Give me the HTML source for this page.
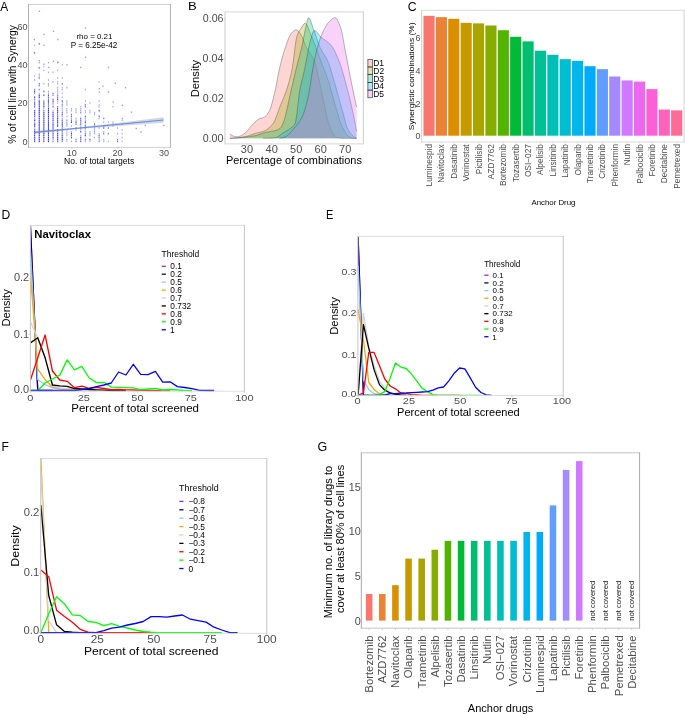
<!DOCTYPE html>
<html><head><meta charset="utf-8"><style>
html,body{margin:0;padding:0;background:#fff;width:685px;height:715px;overflow:hidden}
svg{display:block;filter:blur(0.3px);font-family:'Liberation Sans',sans-serif}
</style></head><body>
<svg width="685" height="715" viewBox="0 0 685 715" style="font-family:'Liberation Sans',sans-serif"><rect width="685" height="715" fill="#fff"/><text transform="translate(0.20 10.80) scale(1.000 1)" font-size="11.88" fill="#000">A</text><g fill="#2b2bf2"><rect x="34.1" y="140.6" width="1.1" height="1.6" opacity="0.93"/><rect x="34.1" y="138.7" width="1.1" height="1.6" opacity="0.89"/><rect x="34.1" y="136.8" width="1.1" height="1.6" opacity="0.89"/><rect x="34.1" y="134.8" width="1.1" height="1.6" opacity="0.93"/><rect x="34.1" y="132.9" width="1.1" height="1.6" opacity="0.80"/><rect x="34.1" y="131.0" width="1.1" height="1.6" opacity="0.89"/><rect x="34.1" y="129.1" width="1.1" height="1.6" opacity="0.80"/><rect x="34.1" y="127.2" width="1.1" height="1.6" opacity="0.42"/><rect x="34.1" y="125.2" width="1.1" height="1.6" opacity="0.98"/><rect x="34.1" y="123.3" width="1.1" height="1.6" opacity="0.98"/><rect x="34.1" y="121.4" width="1.1" height="1.6" opacity="0.42"/><rect x="34.1" y="119.5" width="1.1" height="1.6" opacity="1.00"/><rect x="34.1" y="117.6" width="1.1" height="1.6" opacity="0.42"/><rect x="34.1" y="115.6" width="1.1" height="1.6" opacity="0.80"/><rect x="34.1" y="113.7" width="1.1" height="1.6" opacity="0.89"/><rect x="34.1" y="111.8" width="1.1" height="1.6" opacity="0.96"/><rect x="34.1" y="109.9" width="1.1" height="1.6" opacity="0.89"/><rect x="34.1" y="106.0" width="1.1" height="1.6" opacity="0.80"/><rect x="34.1" y="104.1" width="1.1" height="1.6" opacity="0.80"/><rect x="34.1" y="102.2" width="1.1" height="1.6" opacity="0.89"/><rect x="34.1" y="100.3" width="1.1" height="1.6" opacity="0.42"/><rect x="34.1" y="98.4" width="1.1" height="1.6" opacity="0.66"/><rect x="34.1" y="96.4" width="1.1" height="1.6" opacity="0.89"/><rect x="34.1" y="92.6" width="1.1" height="1.6" opacity="0.66"/><rect x="34.1" y="90.7" width="1.1" height="1.6" opacity="0.89"/><rect x="34.1" y="88.8" width="1.1" height="1.6" opacity="0.66"/><rect x="34.1" y="79.2" width="1.1" height="1.6" opacity="0.42"/><rect x="34.1" y="75.3" width="1.1" height="1.6" opacity="0.42"/><rect x="34.1" y="52.3" width="1.1" height="1.6" opacity="0.42"/><rect x="34.1" y="44.6" width="1.1" height="1.6" opacity="0.42"/><rect x="38.7" y="140.6" width="1.1" height="1.6" opacity="0.99"/><rect x="38.7" y="138.7" width="1.1" height="1.6" opacity="1.00"/><rect x="38.7" y="136.8" width="1.1" height="1.6" opacity="0.93"/><rect x="38.7" y="134.8" width="1.1" height="1.6" opacity="0.98"/><rect x="38.7" y="132.9" width="1.1" height="1.6" opacity="1.00"/><rect x="38.7" y="131.0" width="1.1" height="1.6" opacity="0.89"/><rect x="38.7" y="129.1" width="1.1" height="1.6" opacity="1.00"/><rect x="38.7" y="127.2" width="1.1" height="1.6" opacity="1.00"/><rect x="38.7" y="125.2" width="1.1" height="1.6" opacity="0.99"/><rect x="38.7" y="123.3" width="1.1" height="1.6" opacity="1.00"/><rect x="38.7" y="121.4" width="1.1" height="1.6" opacity="0.99"/><rect x="38.7" y="119.5" width="1.1" height="1.6" opacity="0.89"/><rect x="38.7" y="117.6" width="1.1" height="1.6" opacity="1.00"/><rect x="38.7" y="115.6" width="1.1" height="1.6" opacity="0.99"/><rect x="38.7" y="113.7" width="1.1" height="1.6" opacity="0.93"/><rect x="38.7" y="111.8" width="1.1" height="1.6" opacity="1.00"/><rect x="38.7" y="109.9" width="1.1" height="1.6" opacity="1.00"/><rect x="38.7" y="108.0" width="1.1" height="1.6" opacity="1.00"/><rect x="38.7" y="106.0" width="1.1" height="1.6" opacity="0.96"/><rect x="38.7" y="104.1" width="1.1" height="1.6" opacity="0.93"/><rect x="38.7" y="102.2" width="1.1" height="1.6" opacity="0.99"/><rect x="38.7" y="100.3" width="1.1" height="1.6" opacity="0.98"/><rect x="38.7" y="98.4" width="1.1" height="1.6" opacity="0.42"/><rect x="38.7" y="96.4" width="1.1" height="1.6" opacity="0.98"/><rect x="38.7" y="94.5" width="1.1" height="1.6" opacity="0.96"/><rect x="38.7" y="92.6" width="1.1" height="1.6" opacity="0.42"/><rect x="38.7" y="88.8" width="1.1" height="1.6" opacity="0.66"/><rect x="38.7" y="84.9" width="1.1" height="1.6" opacity="0.66"/><rect x="38.7" y="83.0" width="1.1" height="1.6" opacity="0.66"/><rect x="38.7" y="77.2" width="1.1" height="1.6" opacity="0.66"/><rect x="38.7" y="75.3" width="1.1" height="1.6" opacity="0.42"/><rect x="38.7" y="73.4" width="1.1" height="1.6" opacity="0.42"/><rect x="38.7" y="67.6" width="1.1" height="1.6" opacity="0.42"/><rect x="38.7" y="61.9" width="1.1" height="1.6" opacity="0.42"/><rect x="38.7" y="42.7" width="1.1" height="1.6" opacity="0.42"/><rect x="43.3" y="140.6" width="1.1" height="1.6" opacity="0.96"/><rect x="43.3" y="138.7" width="1.1" height="1.6" opacity="0.66"/><rect x="43.3" y="136.8" width="1.1" height="1.6" opacity="0.99"/><rect x="43.3" y="134.8" width="1.1" height="1.6" opacity="1.00"/><rect x="43.3" y="132.9" width="1.1" height="1.6" opacity="0.99"/><rect x="43.3" y="131.0" width="1.1" height="1.6" opacity="0.89"/><rect x="43.3" y="129.1" width="1.1" height="1.6" opacity="1.00"/><rect x="43.3" y="127.2" width="1.1" height="1.6" opacity="0.96"/><rect x="43.3" y="125.2" width="1.1" height="1.6" opacity="0.98"/><rect x="43.3" y="123.3" width="1.1" height="1.6" opacity="0.96"/><rect x="43.3" y="121.4" width="1.1" height="1.6" opacity="0.99"/><rect x="43.3" y="119.5" width="1.1" height="1.6" opacity="0.89"/><rect x="43.3" y="117.6" width="1.1" height="1.6" opacity="0.96"/><rect x="43.3" y="115.6" width="1.1" height="1.6" opacity="0.99"/><rect x="43.3" y="113.7" width="1.1" height="1.6" opacity="0.99"/><rect x="43.3" y="111.8" width="1.1" height="1.6" opacity="0.96"/><rect x="43.3" y="109.9" width="1.1" height="1.6" opacity="0.66"/><rect x="43.3" y="108.0" width="1.1" height="1.6" opacity="0.42"/><rect x="43.3" y="106.0" width="1.1" height="1.6" opacity="0.93"/><rect x="43.3" y="104.1" width="1.1" height="1.6" opacity="0.80"/><rect x="43.3" y="102.2" width="1.1" height="1.6" opacity="0.93"/><rect x="43.3" y="100.3" width="1.1" height="1.6" opacity="0.66"/><rect x="43.3" y="94.5" width="1.1" height="1.6" opacity="0.89"/><rect x="43.3" y="90.7" width="1.1" height="1.6" opacity="0.80"/><rect x="43.3" y="83.0" width="1.1" height="1.6" opacity="0.42"/><rect x="43.3" y="69.6" width="1.1" height="1.6" opacity="0.42"/><rect x="43.3" y="65.7" width="1.1" height="1.6" opacity="0.42"/><rect x="47.9" y="140.6" width="1.1" height="1.6" opacity="0.99"/><rect x="47.9" y="138.7" width="1.1" height="1.6" opacity="0.98"/><rect x="47.9" y="136.8" width="1.1" height="1.6" opacity="0.99"/><rect x="47.9" y="134.8" width="1.1" height="1.6" opacity="0.89"/><rect x="47.9" y="132.9" width="1.1" height="1.6" opacity="0.93"/><rect x="47.9" y="131.0" width="1.1" height="1.6" opacity="0.96"/><rect x="47.9" y="129.1" width="1.1" height="1.6" opacity="0.99"/><rect x="47.9" y="127.2" width="1.1" height="1.6" opacity="1.00"/><rect x="47.9" y="125.2" width="1.1" height="1.6" opacity="0.99"/><rect x="47.9" y="123.3" width="1.1" height="1.6" opacity="0.96"/><rect x="47.9" y="121.4" width="1.1" height="1.6" opacity="0.93"/><rect x="47.9" y="119.5" width="1.1" height="1.6" opacity="0.80"/><rect x="47.9" y="117.6" width="1.1" height="1.6" opacity="0.93"/><rect x="47.9" y="115.6" width="1.1" height="1.6" opacity="1.00"/><rect x="47.9" y="113.7" width="1.1" height="1.6" opacity="0.80"/><rect x="47.9" y="111.8" width="1.1" height="1.6" opacity="0.99"/><rect x="47.9" y="109.9" width="1.1" height="1.6" opacity="1.00"/><rect x="47.9" y="108.0" width="1.1" height="1.6" opacity="0.93"/><rect x="47.9" y="106.0" width="1.1" height="1.6" opacity="0.66"/><rect x="47.9" y="104.1" width="1.1" height="1.6" opacity="0.66"/><rect x="47.9" y="102.2" width="1.1" height="1.6" opacity="0.80"/><rect x="47.9" y="100.3" width="1.1" height="1.6" opacity="0.93"/><rect x="47.9" y="98.4" width="1.1" height="1.6" opacity="0.66"/><rect x="47.9" y="96.4" width="1.1" height="1.6" opacity="0.66"/><rect x="47.9" y="94.5" width="1.1" height="1.6" opacity="0.80"/><rect x="47.9" y="92.6" width="1.1" height="1.6" opacity="0.42"/><rect x="47.9" y="90.7" width="1.1" height="1.6" opacity="0.42"/><rect x="47.9" y="84.9" width="1.1" height="1.6" opacity="0.42"/><rect x="47.9" y="83.0" width="1.1" height="1.6" opacity="0.42"/><rect x="47.9" y="79.2" width="1.1" height="1.6" opacity="0.42"/><rect x="47.9" y="71.5" width="1.1" height="1.6" opacity="0.42"/><rect x="47.9" y="61.9" width="1.1" height="1.6" opacity="0.42"/><rect x="52.5" y="140.6" width="1.1" height="1.6" opacity="0.66"/><rect x="52.5" y="138.7" width="1.1" height="1.6" opacity="0.42"/><rect x="52.5" y="136.8" width="1.1" height="1.6" opacity="1.00"/><rect x="52.5" y="134.8" width="1.1" height="1.6" opacity="0.66"/><rect x="52.5" y="132.9" width="1.1" height="1.6" opacity="0.89"/><rect x="52.5" y="131.0" width="1.1" height="1.6" opacity="0.66"/><rect x="52.5" y="129.1" width="1.1" height="1.6" opacity="0.66"/><rect x="52.5" y="127.2" width="1.1" height="1.6" opacity="0.93"/><rect x="52.5" y="125.2" width="1.1" height="1.6" opacity="0.89"/><rect x="52.5" y="123.3" width="1.1" height="1.6" opacity="0.98"/><rect x="52.5" y="121.4" width="1.1" height="1.6" opacity="0.66"/><rect x="52.5" y="119.5" width="1.1" height="1.6" opacity="0.89"/><rect x="52.5" y="117.6" width="1.1" height="1.6" opacity="0.80"/><rect x="52.5" y="115.6" width="1.1" height="1.6" opacity="0.93"/><rect x="52.5" y="113.7" width="1.1" height="1.6" opacity="0.93"/><rect x="52.5" y="111.8" width="1.1" height="1.6" opacity="0.89"/><rect x="52.5" y="109.9" width="1.1" height="1.6" opacity="0.42"/><rect x="52.5" y="106.0" width="1.1" height="1.6" opacity="0.66"/><rect x="52.5" y="104.1" width="1.1" height="1.6" opacity="0.42"/><rect x="52.5" y="102.2" width="1.1" height="1.6" opacity="0.66"/><rect x="52.5" y="100.3" width="1.1" height="1.6" opacity="0.89"/><rect x="52.5" y="98.4" width="1.1" height="1.6" opacity="0.66"/><rect x="52.5" y="94.5" width="1.1" height="1.6" opacity="0.66"/><rect x="52.5" y="92.6" width="1.1" height="1.6" opacity="0.66"/><rect x="52.5" y="81.1" width="1.1" height="1.6" opacity="0.42"/><rect x="52.5" y="71.5" width="1.1" height="1.6" opacity="0.42"/><rect x="57.1" y="140.6" width="1.1" height="1.6" opacity="0.80"/><rect x="57.1" y="138.7" width="1.1" height="1.6" opacity="0.96"/><rect x="57.1" y="136.8" width="1.1" height="1.6" opacity="0.96"/><rect x="57.1" y="134.8" width="1.1" height="1.6" opacity="0.93"/><rect x="57.1" y="132.9" width="1.1" height="1.6" opacity="0.93"/><rect x="57.1" y="131.0" width="1.1" height="1.6" opacity="0.66"/><rect x="57.1" y="129.1" width="1.1" height="1.6" opacity="0.89"/><rect x="57.1" y="125.2" width="1.1" height="1.6" opacity="0.99"/><rect x="57.1" y="123.3" width="1.1" height="1.6" opacity="0.80"/><rect x="57.1" y="121.4" width="1.1" height="1.6" opacity="0.98"/><rect x="57.1" y="119.5" width="1.1" height="1.6" opacity="0.93"/><rect x="57.1" y="117.6" width="1.1" height="1.6" opacity="0.96"/><rect x="57.1" y="115.6" width="1.1" height="1.6" opacity="0.80"/><rect x="57.1" y="113.7" width="1.1" height="1.6" opacity="0.66"/><rect x="57.1" y="111.8" width="1.1" height="1.6" opacity="0.93"/><rect x="57.1" y="109.9" width="1.1" height="1.6" opacity="0.99"/><rect x="57.1" y="108.0" width="1.1" height="1.6" opacity="0.89"/><rect x="57.1" y="106.0" width="1.1" height="1.6" opacity="0.66"/><rect x="57.1" y="102.2" width="1.1" height="1.6" opacity="0.42"/><rect x="57.1" y="100.3" width="1.1" height="1.6" opacity="0.42"/><rect x="57.1" y="98.4" width="1.1" height="1.6" opacity="0.89"/><rect x="57.1" y="96.4" width="1.1" height="1.6" opacity="0.66"/><rect x="57.1" y="94.5" width="1.1" height="1.6" opacity="0.66"/><rect x="57.1" y="92.6" width="1.1" height="1.6" opacity="0.42"/><rect x="57.1" y="90.7" width="1.1" height="1.6" opacity="0.42"/><rect x="57.1" y="88.8" width="1.1" height="1.6" opacity="0.42"/><rect x="57.1" y="86.8" width="1.1" height="1.6" opacity="0.42"/><rect x="57.1" y="83.0" width="1.1" height="1.6" opacity="0.42"/><rect x="57.1" y="81.1" width="1.1" height="1.6" opacity="0.42"/><rect x="57.1" y="77.2" width="1.1" height="1.6" opacity="0.42"/><rect x="57.1" y="69.6" width="1.1" height="1.6" opacity="0.42"/><rect x="57.1" y="61.9" width="1.1" height="1.6" opacity="0.42"/><rect x="61.7" y="140.6" width="1.1" height="1.6" opacity="0.66"/><rect x="61.7" y="138.7" width="1.1" height="1.6" opacity="1.00"/><rect x="61.7" y="136.8" width="1.1" height="1.6" opacity="0.89"/><rect x="61.7" y="134.8" width="1.1" height="1.6" opacity="0.89"/><rect x="61.7" y="132.9" width="1.1" height="1.6" opacity="0.66"/><rect x="61.7" y="131.0" width="1.1" height="1.6" opacity="0.66"/><rect x="61.7" y="129.1" width="1.1" height="1.6" opacity="0.89"/><rect x="61.7" y="127.2" width="1.1" height="1.6" opacity="0.66"/><rect x="61.7" y="125.2" width="1.1" height="1.6" opacity="0.89"/><rect x="61.7" y="123.3" width="1.1" height="1.6" opacity="0.96"/><rect x="61.7" y="121.4" width="1.1" height="1.6" opacity="0.80"/><rect x="61.7" y="119.5" width="1.1" height="1.6" opacity="0.80"/><rect x="61.7" y="117.6" width="1.1" height="1.6" opacity="0.42"/><rect x="61.7" y="115.6" width="1.1" height="1.6" opacity="0.42"/><rect x="61.7" y="113.7" width="1.1" height="1.6" opacity="0.80"/><rect x="61.7" y="111.8" width="1.1" height="1.6" opacity="0.66"/><rect x="61.7" y="109.9" width="1.1" height="1.6" opacity="0.42"/><rect x="61.7" y="108.0" width="1.1" height="1.6" opacity="0.42"/><rect x="61.7" y="106.0" width="1.1" height="1.6" opacity="0.42"/><rect x="61.7" y="104.1" width="1.1" height="1.6" opacity="0.66"/><rect x="61.7" y="102.2" width="1.1" height="1.6" opacity="0.42"/><rect x="61.7" y="100.3" width="1.1" height="1.6" opacity="0.80"/><rect x="61.7" y="96.4" width="1.1" height="1.6" opacity="0.42"/><rect x="61.7" y="92.6" width="1.1" height="1.6" opacity="0.42"/><rect x="61.7" y="88.8" width="1.1" height="1.6" opacity="0.42"/><rect x="61.7" y="86.8" width="1.1" height="1.6" opacity="0.42"/><rect x="61.7" y="83.0" width="1.1" height="1.6" opacity="0.66"/><rect x="61.7" y="77.2" width="1.1" height="1.6" opacity="0.42"/><rect x="61.7" y="63.8" width="1.1" height="1.6" opacity="0.42"/><rect x="66.3" y="140.6" width="1.1" height="1.6" opacity="0.42"/><rect x="66.3" y="138.7" width="1.1" height="1.6" opacity="0.42"/><rect x="66.3" y="134.8" width="1.1" height="1.6" opacity="0.42"/><rect x="66.3" y="132.9" width="1.1" height="1.6" opacity="0.42"/><rect x="66.3" y="131.0" width="1.1" height="1.6" opacity="0.42"/><rect x="66.3" y="129.1" width="1.1" height="1.6" opacity="0.42"/><rect x="66.3" y="125.2" width="1.1" height="1.6" opacity="0.42"/><rect x="66.3" y="123.3" width="1.1" height="1.6" opacity="0.66"/><rect x="66.3" y="121.4" width="1.1" height="1.6" opacity="0.42"/><rect x="66.3" y="119.5" width="1.1" height="1.6" opacity="0.66"/><rect x="66.3" y="115.6" width="1.1" height="1.6" opacity="0.42"/><rect x="66.3" y="111.8" width="1.1" height="1.6" opacity="0.42"/><rect x="66.3" y="109.9" width="1.1" height="1.6" opacity="0.42"/><rect x="66.3" y="108.0" width="1.1" height="1.6" opacity="0.42"/><rect x="66.3" y="104.1" width="1.1" height="1.6" opacity="0.42"/><rect x="66.3" y="102.2" width="1.1" height="1.6" opacity="0.42"/><rect x="66.3" y="100.3" width="1.1" height="1.6" opacity="0.42"/><rect x="66.3" y="86.8" width="1.1" height="1.6" opacity="0.42"/><rect x="70.9" y="140.6" width="1.1" height="1.6" opacity="0.42"/><rect x="70.9" y="136.8" width="1.1" height="1.6" opacity="0.80"/><rect x="70.9" y="134.8" width="1.1" height="1.6" opacity="0.66"/><rect x="70.9" y="132.9" width="1.1" height="1.6" opacity="0.89"/><rect x="70.9" y="131.0" width="1.1" height="1.6" opacity="0.42"/><rect x="70.9" y="125.2" width="1.1" height="1.6" opacity="0.42"/><rect x="70.9" y="121.4" width="1.1" height="1.6" opacity="0.93"/><rect x="70.9" y="119.5" width="1.1" height="1.6" opacity="0.66"/><rect x="70.9" y="117.6" width="1.1" height="1.6" opacity="0.42"/><rect x="70.9" y="115.6" width="1.1" height="1.6" opacity="0.66"/><rect x="70.9" y="113.7" width="1.1" height="1.6" opacity="0.66"/><rect x="70.9" y="109.9" width="1.1" height="1.6" opacity="0.42"/><rect x="70.9" y="108.0" width="1.1" height="1.6" opacity="0.42"/><rect x="75.5" y="140.6" width="1.1" height="1.6" opacity="0.66"/><rect x="75.5" y="138.7" width="1.1" height="1.6" opacity="0.66"/><rect x="75.5" y="129.1" width="1.1" height="1.6" opacity="0.42"/><rect x="75.5" y="127.2" width="1.1" height="1.6" opacity="0.66"/><rect x="75.5" y="123.3" width="1.1" height="1.6" opacity="0.66"/><rect x="75.5" y="121.4" width="1.1" height="1.6" opacity="0.89"/><rect x="75.5" y="119.5" width="1.1" height="1.6" opacity="0.42"/><rect x="75.5" y="117.6" width="1.1" height="1.6" opacity="0.42"/><rect x="75.5" y="111.8" width="1.1" height="1.6" opacity="0.42"/><rect x="75.5" y="109.9" width="1.1" height="1.6" opacity="0.42"/><rect x="75.5" y="108.0" width="1.1" height="1.6" opacity="0.42"/><rect x="80.2" y="140.6" width="1.1" height="1.6" opacity="0.80"/><rect x="80.2" y="138.7" width="1.1" height="1.6" opacity="0.66"/><rect x="80.2" y="136.8" width="1.1" height="1.6" opacity="0.89"/><rect x="80.2" y="134.8" width="1.1" height="1.6" opacity="0.42"/><rect x="80.2" y="131.0" width="1.1" height="1.6" opacity="0.80"/><rect x="80.2" y="129.1" width="1.1" height="1.6" opacity="0.42"/><rect x="80.2" y="127.2" width="1.1" height="1.6" opacity="0.66"/><rect x="80.2" y="125.2" width="1.1" height="1.6" opacity="0.42"/><rect x="80.2" y="123.3" width="1.1" height="1.6" opacity="0.80"/><rect x="80.2" y="121.4" width="1.1" height="1.6" opacity="0.66"/><rect x="80.2" y="119.5" width="1.1" height="1.6" opacity="0.80"/><rect x="80.2" y="117.6" width="1.1" height="1.6" opacity="0.80"/><rect x="80.2" y="111.8" width="1.1" height="1.6" opacity="0.66"/><rect x="80.2" y="109.9" width="1.1" height="1.6" opacity="0.42"/><rect x="80.2" y="108.0" width="1.1" height="1.6" opacity="0.42"/><rect x="80.2" y="106.0" width="1.1" height="1.6" opacity="0.42"/><rect x="84.8" y="140.6" width="1.1" height="1.6" opacity="0.42"/><rect x="84.8" y="138.7" width="1.1" height="1.6" opacity="0.66"/><rect x="84.8" y="134.8" width="1.1" height="1.6" opacity="0.89"/><rect x="84.8" y="132.9" width="1.1" height="1.6" opacity="0.66"/><rect x="84.8" y="131.0" width="1.1" height="1.6" opacity="0.42"/><rect x="84.8" y="129.1" width="1.1" height="1.6" opacity="0.42"/><rect x="84.8" y="127.2" width="1.1" height="1.6" opacity="0.66"/><rect x="84.8" y="125.2" width="1.1" height="1.6" opacity="0.80"/><rect x="84.8" y="123.3" width="1.1" height="1.6" opacity="0.42"/><rect x="84.8" y="121.4" width="1.1" height="1.6" opacity="0.93"/><rect x="84.8" y="119.5" width="1.1" height="1.6" opacity="0.42"/><rect x="84.8" y="117.6" width="1.1" height="1.6" opacity="0.42"/><rect x="84.8" y="115.6" width="1.1" height="1.6" opacity="0.80"/><rect x="84.8" y="111.8" width="1.1" height="1.6" opacity="0.42"/><rect x="84.8" y="109.9" width="1.1" height="1.6" opacity="0.42"/><rect x="84.8" y="106.0" width="1.1" height="1.6" opacity="0.66"/><rect x="84.8" y="104.1" width="1.1" height="1.6" opacity="0.66"/><rect x="84.8" y="100.3" width="1.1" height="1.6" opacity="0.42"/><rect x="84.8" y="88.8" width="1.1" height="1.6" opacity="0.42"/><rect x="89.4" y="140.6" width="1.1" height="1.6" opacity="0.42"/><rect x="89.4" y="138.7" width="1.1" height="1.6" opacity="0.80"/><rect x="89.4" y="134.8" width="1.1" height="1.6" opacity="0.42"/><rect x="89.4" y="132.9" width="1.1" height="1.6" opacity="0.42"/><rect x="89.4" y="131.0" width="1.1" height="1.6" opacity="0.42"/><rect x="89.4" y="111.8" width="1.1" height="1.6" opacity="0.42"/><rect x="89.4" y="109.9" width="1.1" height="1.6" opacity="0.42"/><rect x="89.4" y="102.2" width="1.1" height="1.6" opacity="0.42"/><rect x="94.0" y="136.8" width="1.1" height="1.6" opacity="0.42"/><rect x="94.0" y="132.9" width="1.1" height="1.6" opacity="0.42"/><rect x="94.0" y="131.0" width="1.1" height="1.6" opacity="0.42"/><rect x="94.0" y="129.1" width="1.1" height="1.6" opacity="0.42"/><rect x="94.0" y="127.2" width="1.1" height="1.6" opacity="0.42"/><rect x="94.0" y="125.2" width="1.1" height="1.6" opacity="0.42"/><rect x="94.0" y="123.3" width="1.1" height="1.6" opacity="0.66"/><rect x="94.0" y="113.7" width="1.1" height="1.6" opacity="0.42"/><rect x="94.0" y="111.8" width="1.1" height="1.6" opacity="0.42"/><rect x="98.6" y="140.6" width="1.1" height="1.6" opacity="0.66"/><rect x="98.6" y="138.7" width="1.1" height="1.6" opacity="0.42"/><rect x="98.6" y="136.8" width="1.1" height="1.6" opacity="0.66"/><rect x="98.6" y="134.8" width="1.1" height="1.6" opacity="0.80"/><rect x="98.6" y="132.9" width="1.1" height="1.6" opacity="0.42"/><rect x="98.6" y="127.2" width="1.1" height="1.6" opacity="0.42"/><rect x="98.6" y="117.6" width="1.1" height="1.6" opacity="0.42"/><rect x="98.6" y="115.6" width="1.1" height="1.6" opacity="0.80"/><rect x="98.6" y="109.9" width="1.1" height="1.6" opacity="0.89"/><rect x="98.6" y="106.0" width="1.1" height="1.6" opacity="0.42"/><rect x="98.6" y="104.1" width="1.1" height="1.6" opacity="0.42"/><rect x="98.6" y="100.3" width="1.1" height="1.6" opacity="0.42"/><rect x="98.6" y="81.1" width="1.1" height="1.6" opacity="0.42"/><rect x="103.2" y="140.6" width="1.1" height="1.6" opacity="0.42"/><rect x="103.2" y="138.7" width="1.1" height="1.6" opacity="0.42"/><rect x="103.2" y="132.9" width="1.1" height="1.6" opacity="0.66"/><rect x="103.2" y="131.0" width="1.1" height="1.6" opacity="0.42"/><rect x="103.2" y="127.2" width="1.1" height="1.6" opacity="0.80"/><rect x="103.2" y="125.2" width="1.1" height="1.6" opacity="0.42"/><rect x="103.2" y="121.4" width="1.1" height="1.6" opacity="0.42"/><rect x="103.2" y="117.6" width="1.1" height="1.6" opacity="0.66"/><rect x="107.8" y="140.6" width="1.1" height="1.6" opacity="0.42"/><rect x="107.8" y="132.9" width="1.1" height="1.6" opacity="0.66"/><rect x="107.8" y="127.2" width="1.1" height="1.6" opacity="0.66"/><rect x="107.8" y="121.4" width="1.1" height="1.6" opacity="0.42"/><rect x="112.4" y="125.2" width="1.1" height="1.6" opacity="0.42"/><rect x="112.4" y="123.3" width="1.1" height="1.6" opacity="0.42"/><rect x="112.4" y="121.4" width="1.1" height="1.6" opacity="0.42"/><rect x="112.4" y="106.0" width="1.1" height="1.6" opacity="0.42"/><rect x="117.0" y="140.6" width="1.1" height="1.6" opacity="0.66"/><rect x="117.0" y="138.7" width="1.1" height="1.6" opacity="0.66"/><rect x="117.0" y="132.9" width="1.1" height="1.6" opacity="0.42"/><rect x="117.0" y="127.2" width="1.1" height="1.6" opacity="0.42"/><rect x="121.6" y="140.6" width="1.1" height="1.6" opacity="0.42"/><rect x="121.6" y="136.8" width="1.1" height="1.6" opacity="0.42"/><rect x="121.6" y="132.9" width="1.1" height="1.6" opacity="0.42"/><rect x="121.6" y="129.1" width="1.1" height="1.6" opacity="0.42"/><rect x="121.6" y="123.3" width="1.1" height="1.6" opacity="0.42"/><rect x="121.6" y="119.5" width="1.1" height="1.6" opacity="0.42"/><rect x="38.7" y="10.6" width="1.4" height="1.4" opacity="0.45"/><rect x="84.8" y="27.3" width="1.4" height="1.4" opacity="0.45"/><rect x="52.7" y="30.6" width="1.4" height="1.4" opacity="0.45"/><rect x="43.3" y="33.8" width="1.4" height="1.4" opacity="0.45"/><rect x="33.6" y="38.8" width="1.4" height="1.4" opacity="0.45"/><rect x="57.3" y="38.8" width="1.4" height="1.4" opacity="0.45"/><rect x="38.7" y="43.4" width="1.4" height="1.4" opacity="0.45"/><rect x="43.3" y="44.6" width="1.4" height="1.4" opacity="0.45"/><rect x="84.8" y="56.5" width="1.4" height="1.4" opacity="0.45"/><rect x="38.7" y="60.0" width="1.4" height="1.4" opacity="0.45"/><rect x="52.7" y="60.6" width="1.4" height="1.4" opacity="0.45"/><rect x="57.3" y="61.5" width="1.4" height="1.4" opacity="0.45"/><rect x="43.3" y="63.5" width="1.4" height="1.4" opacity="0.45"/><rect x="66.3" y="64.1" width="1.4" height="1.4" opacity="0.45"/><rect x="38.7" y="66.8" width="1.4" height="1.4" opacity="0.45"/><rect x="48.0" y="66.8" width="1.4" height="1.4" opacity="0.45"/><rect x="80.1" y="66.8" width="1.4" height="1.4" opacity="0.45"/><rect x="107.8" y="66.8" width="1.4" height="1.4" opacity="0.45"/><rect x="98.7" y="88.0" width="1.4" height="1.4" opacity="0.45"/><rect x="98.7" y="91.3" width="1.4" height="1.4" opacity="0.45"/><rect x="107.8" y="91.3" width="1.4" height="1.4" opacity="0.45"/><rect x="112.5" y="101.2" width="1.4" height="1.4" opacity="0.45"/><rect x="121.7" y="104.6" width="1.4" height="1.4" opacity="0.45"/><rect x="130.8" y="111.5" width="1.4" height="1.4" opacity="0.45"/><rect x="121.7" y="117.8" width="1.4" height="1.4" opacity="0.45"/><rect x="144.6" y="124.7" width="1.4" height="1.4" opacity="0.45"/><rect x="163.2" y="124.7" width="1.4" height="1.4" opacity="0.45"/><rect x="33.8" y="51.9" width="1.4" height="1.4" opacity="0.45"/><rect x="102.3" y="85.4" width="1.4" height="1.4" opacity="0.45"/><rect x="124.8" y="86.9" width="1.4" height="1.4" opacity="0.45"/><rect x="114.6" y="82.5" width="1.4" height="1.4" opacity="0.45"/><rect x="135.6" y="127.8" width="1.4" height="1.4" opacity="0.45"/><rect x="140.2" y="131.3" width="1.4" height="1.4" opacity="0.45"/></g><polygon points="34.6,131.0 79.8,127.4 163.6,117.2 163.6,122.8 79.8,128.8 34.6,133.8" fill="#999" opacity="0.4"/><line x1="34.65" y1="132.40" x2="163.59" y2="120.00" stroke="#4f7fff" stroke-width="1.1" opacity="0.85"/><line x1="28.50" y1="4.40" x2="170.40" y2="4.40" stroke="#d0d0d0" stroke-width="1.0"/><line x1="28.50" y1="147.40" x2="170.40" y2="147.40" stroke="#d0d0d0" stroke-width="1.0"/><line x1="28.50" y1="3.90" x2="28.50" y2="147.90" stroke="#b0b0b0" stroke-width="1.0"/><line x1="170.40" y1="3.90" x2="170.40" y2="147.90" stroke="#b0b0b0" stroke-width="1.0"/><text transform="translate(22.41 144.70) scale(0.970 1)" font-size="9.30" fill="#4d4d4d">0</text><line x1="26.80" y1="141.40" x2="28.50" y2="141.40" stroke="#c0c0c0" stroke-width="0.8"/><text transform="translate(17.40 106.30) scale(0.970 1)" font-size="9.30" fill="#4d4d4d">20</text><line x1="26.80" y1="103.00" x2="28.50" y2="103.00" stroke="#c0c0c0" stroke-width="0.8"/><text transform="translate(17.40 67.50) scale(0.970 1)" font-size="9.30" fill="#4d4d4d">40</text><line x1="26.80" y1="64.60" x2="28.50" y2="64.60" stroke="#c0c0c0" stroke-width="0.8"/><text transform="translate(17.40 29.80) scale(0.970 1)" font-size="9.30" fill="#4d4d4d">60</text><line x1="26.80" y1="26.20" x2="28.50" y2="26.20" stroke="#c0c0c0" stroke-width="0.8"/><text transform="translate(66.81 155.70) scale(0.970 1)" font-size="9.30" fill="#4d4d4d">10</text><line x1="72.00" y1="147.40" x2="72.00" y2="149.00" stroke="#c0c0c0" stroke-width="0.8"/><text transform="translate(112.43 155.70) scale(0.970 1)" font-size="9.30" fill="#4d4d4d">20</text><line x1="117.50" y1="147.40" x2="117.50" y2="149.00" stroke="#c0c0c0" stroke-width="0.8"/><text transform="translate(158.97 155.70) scale(0.970 1)" font-size="9.30" fill="#4d4d4d">30</text><line x1="164.00" y1="147.40" x2="164.00" y2="149.00" stroke="#c0c0c0" stroke-width="0.8"/><text transform="translate(64.11 164.30) scale(1.000 1)" font-size="8.59" fill="#000">No. of total targets</text><text transform="translate(15.90 143.86) rotate(-90) scale(1.000 1)" font-size="10.22" fill="#000">% of cell line with Synergy</text><text transform="translate(76.48 38.80) scale(1.000 1)" font-size="7.94" fill="#000">rho = 0.21</text><text transform="translate(70.65 48.10) scale(1.000 1)" font-size="8.14" fill="#000">P = 6.25e-42</text><text transform="translate(187.95 10.40) scale(1.109 1)" font-size="11.80" fill="#000">B</text><clipPath id="clipB"><rect x="225.0" y="11.9" width="138.39999999999998" height="131.9"/></clipPath><g clip-path="url(#clipB)"><polygon points="229.79,138.30 229.79,133.92 230.37,134.36 230.95,134.75 231.53,135.11 232.11,135.43 232.69,135.71 233.27,135.96 233.85,136.17 234.43,136.34 235.01,136.48 235.59,136.59 236.16,136.66 236.74,136.70 237.32,136.71 237.90,136.66 238.48,136.56 239.06,136.41 239.64,136.22 240.22,135.98 240.80,135.72 241.38,135.42 241.96,135.10 242.54,134.76 243.11,134.41 243.69,134.05 244.27,133.69 244.85,133.32 245.43,132.86 246.01,132.33 246.59,131.73 247.17,131.07 247.75,130.38 248.33,129.66 248.91,128.92 249.48,128.18 250.06,127.46 250.64,126.76 251.22,126.09 251.80,125.48 252.38,124.90 252.96,124.31 253.54,123.70 254.12,123.10 254.70,122.50 255.28,121.92 255.86,121.35 256.43,120.81 257.01,120.31 257.59,119.85 258.17,119.43 258.75,119.08 259.33,118.78 259.91,118.55 260.49,118.36 261.07,118.20 261.65,118.06 262.23,117.91 262.81,117.75 263.38,117.56 263.96,117.32 264.54,117.02 265.12,116.61 265.70,116.11 266.28,115.51 266.86,114.83 267.44,114.07 268.02,113.23 268.60,112.32 269.18,111.34 269.76,110.16 270.33,108.72 270.91,107.03 271.49,105.13 272.07,103.06 272.65,100.84 273.23,98.52 273.81,96.11 274.39,93.67 274.97,91.21 275.55,88.72 276.13,85.91 276.70,82.84 277.28,79.65 277.86,76.47 278.44,73.42 279.02,70.63 279.60,68.14 280.18,65.73 280.76,63.39 281.34,61.11 281.92,58.91 282.50,56.78 283.08,54.72 283.65,52.75 284.23,50.86 284.81,49.05 285.39,47.33 285.97,45.67 286.55,44.01 287.13,42.35 287.71,40.74 288.29,39.20 288.87,37.75 289.45,36.43 290.03,35.26 290.60,34.27 291.18,33.49 291.76,32.86 292.34,32.24 292.92,31.66 293.50,31.13 294.08,30.67 294.66,30.29 295.24,30.02 295.82,29.87 296.40,29.86 296.97,30.05 297.55,30.41 298.13,30.93 298.71,31.57 299.29,32.29 299.87,33.09 300.45,33.92 301.03,34.75 301.61,35.71 302.19,36.93 302.77,38.35 303.35,39.89 303.92,41.50 304.50,43.11 305.08,44.65 305.66,46.05 306.24,47.26 306.82,48.34 307.40,49.34 307.98,50.28 308.56,51.16 309.14,52.01 309.72,52.85 310.30,53.70 310.87,54.57 311.45,55.48 312.03,56.45 312.61,57.50 313.19,58.64 313.77,59.90 314.35,61.31 314.93,62.95 315.51,64.83 316.09,66.91 316.67,69.18 317.24,71.59 317.82,74.14 318.40,76.79 318.98,79.52 319.56,82.30 320.14,85.11 320.72,87.92 321.30,90.69 321.88,93.42 322.46,96.07 323.04,98.61 323.62,101.11 324.19,103.75 324.77,106.50 325.35,109.31 325.93,112.13 326.51,114.89 327.09,117.55 327.67,120.05 328.25,122.35 328.83,124.39 329.41,126.11 329.99,127.49 330.57,128.74 331.14,129.95 331.72,131.12 332.30,132.23 332.88,133.27 333.46,134.22 334.04,135.06 334.62,135.80 335.20,136.41 335.78,136.88 336.36,137.19 336.94,137.35 337.52,137.47 338.09,137.59 338.67,137.69 339.25,137.79 339.83,137.88 340.41,137.96 340.99,138.04 341.57,138.10 342.15,138.16 342.73,138.20 343.31,138.24 343.89,138.27 344.46,138.29 345.04,138.30 345.62,138.30 346.20,138.30 346.78,138.30 347.36,138.30 347.94,138.30 348.52,138.30 349.10,138.30 349.68,138.30 350.26,138.30 350.84,138.30 351.41,138.30 351.99,138.30 352.57,138.30 353.15,138.30 353.73,138.30 354.31,138.30 354.89,138.30 355.47,138.30 356.05,138.30 356.63,138.30 356.63,138.30" fill="#F8766D" fill-opacity="0.3" stroke="none"/><polyline points="229.79,133.92 230.37,134.36 230.95,134.75 231.53,135.11 232.11,135.43 232.69,135.71 233.27,135.96 233.85,136.17 234.43,136.34 235.01,136.48 235.59,136.59 236.16,136.66 236.74,136.70 237.32,136.71 237.90,136.66 238.48,136.56 239.06,136.41 239.64,136.22 240.22,135.98 240.80,135.72 241.38,135.42 241.96,135.10 242.54,134.76 243.11,134.41 243.69,134.05 244.27,133.69 244.85,133.32 245.43,132.86 246.01,132.33 246.59,131.73 247.17,131.07 247.75,130.38 248.33,129.66 248.91,128.92 249.48,128.18 250.06,127.46 250.64,126.76 251.22,126.09 251.80,125.48 252.38,124.90 252.96,124.31 253.54,123.70 254.12,123.10 254.70,122.50 255.28,121.92 255.86,121.35 256.43,120.81 257.01,120.31 257.59,119.85 258.17,119.43 258.75,119.08 259.33,118.78 259.91,118.55 260.49,118.36 261.07,118.20 261.65,118.06 262.23,117.91 262.81,117.75 263.38,117.56 263.96,117.32 264.54,117.02 265.12,116.61 265.70,116.11 266.28,115.51 266.86,114.83 267.44,114.07 268.02,113.23 268.60,112.32 269.18,111.34 269.76,110.16 270.33,108.72 270.91,107.03 271.49,105.13 272.07,103.06 272.65,100.84 273.23,98.52 273.81,96.11 274.39,93.67 274.97,91.21 275.55,88.72 276.13,85.91 276.70,82.84 277.28,79.65 277.86,76.47 278.44,73.42 279.02,70.63 279.60,68.14 280.18,65.73 280.76,63.39 281.34,61.11 281.92,58.91 282.50,56.78 283.08,54.72 283.65,52.75 284.23,50.86 284.81,49.05 285.39,47.33 285.97,45.67 286.55,44.01 287.13,42.35 287.71,40.74 288.29,39.20 288.87,37.75 289.45,36.43 290.03,35.26 290.60,34.27 291.18,33.49 291.76,32.86 292.34,32.24 292.92,31.66 293.50,31.13 294.08,30.67 294.66,30.29 295.24,30.02 295.82,29.87 296.40,29.86 296.97,30.05 297.55,30.41 298.13,30.93 298.71,31.57 299.29,32.29 299.87,33.09 300.45,33.92 301.03,34.75 301.61,35.71 302.19,36.93 302.77,38.35 303.35,39.89 303.92,41.50 304.50,43.11 305.08,44.65 305.66,46.05 306.24,47.26 306.82,48.34 307.40,49.34 307.98,50.28 308.56,51.16 309.14,52.01 309.72,52.85 310.30,53.70 310.87,54.57 311.45,55.48 312.03,56.45 312.61,57.50 313.19,58.64 313.77,59.90 314.35,61.31 314.93,62.95 315.51,64.83 316.09,66.91 316.67,69.18 317.24,71.59 317.82,74.14 318.40,76.79 318.98,79.52 319.56,82.30 320.14,85.11 320.72,87.92 321.30,90.69 321.88,93.42 322.46,96.07 323.04,98.61 323.62,101.11 324.19,103.75 324.77,106.50 325.35,109.31 325.93,112.13 326.51,114.89 327.09,117.55 327.67,120.05 328.25,122.35 328.83,124.39 329.41,126.11 329.99,127.49 330.57,128.74 331.14,129.95 331.72,131.12 332.30,132.23 332.88,133.27 333.46,134.22 334.04,135.06 334.62,135.80 335.20,136.41 335.78,136.88 336.36,137.19 336.94,137.35 337.52,137.47 338.09,137.59 338.67,137.69 339.25,137.79 339.83,137.88 340.41,137.96 340.99,138.04 341.57,138.10 342.15,138.16 342.73,138.20 343.31,138.24 343.89,138.27 344.46,138.29 345.04,138.30 345.62,138.30 346.20,138.30 346.78,138.30 347.36,138.30 347.94,138.30 348.52,138.30 349.10,138.30 349.68,138.30 350.26,138.30 350.84,138.30 351.41,138.30 351.99,138.30 352.57,138.30 353.15,138.30 353.73,138.30 354.31,138.30 354.89,138.30 355.47,138.30 356.05,138.30 356.63,138.30" fill="none" stroke="#333" stroke-opacity="0.7" stroke-width="0.5"/><polygon points="229.79,138.30 229.79,138.30 230.37,138.30 230.95,138.29 231.53,138.27 232.11,138.24 232.69,138.22 233.27,138.18 233.85,138.14 234.43,138.09 235.01,138.04 235.59,137.98 236.16,137.92 236.74,137.86 237.32,137.79 237.90,137.72 238.48,137.64 239.06,137.56 239.64,137.48 240.22,137.39 240.80,137.31 241.38,137.22 241.96,137.13 242.54,137.03 243.11,136.94 243.69,136.85 244.27,136.75 244.85,136.65 245.43,136.54 246.01,136.41 246.59,136.26 247.17,136.10 247.75,135.93 248.33,135.75 248.91,135.56 249.48,135.36 250.06,135.16 250.64,134.96 251.22,134.75 251.80,134.55 252.38,134.34 252.96,134.14 253.54,133.94 254.12,133.76 254.70,133.57 255.28,133.40 255.86,133.24 256.43,133.09 257.01,132.95 257.59,132.81 258.17,132.67 258.75,132.53 259.33,132.39 259.91,132.25 260.49,132.11 261.07,131.96 261.65,131.80 262.23,131.63 262.81,131.45 263.38,131.25 263.96,131.04 264.54,130.82 265.12,130.57 265.70,130.29 266.28,129.98 266.86,129.63 267.44,129.24 268.02,128.81 268.60,128.34 269.18,127.83 269.76,127.29 270.33,126.71 270.91,126.09 271.49,125.44 272.07,124.75 272.65,124.03 273.23,123.27 273.81,122.41 274.39,121.35 274.97,120.13 275.55,118.76 276.13,117.28 276.70,115.72 277.28,114.09 277.86,112.44 278.44,110.78 279.02,109.15 279.60,107.57 280.18,106.07 280.76,104.64 281.34,103.25 281.92,101.88 282.50,100.51 283.08,99.14 283.65,97.75 284.23,96.32 284.81,94.85 285.39,93.32 285.97,91.71 286.55,90.01 287.13,88.25 287.71,86.43 288.29,84.54 288.87,82.57 289.45,80.50 290.03,78.32 290.60,76.00 291.18,73.52 291.76,70.89 292.34,67.91 292.92,64.11 293.50,59.71 294.08,54.98 294.66,50.20 295.24,45.66 295.82,41.62 296.40,38.37 296.97,36.18 297.55,34.61 298.13,33.24 298.71,32.06 299.29,31.01 299.87,30.06 300.45,29.18 301.03,28.32 301.61,27.43 302.19,26.50 302.77,25.58 303.35,24.74 303.92,24.04 304.50,23.54 305.08,23.29 305.66,23.39 306.24,23.89 306.82,24.73 307.40,25.85 307.98,27.19 308.56,28.67 309.14,30.23 309.72,31.81 310.30,33.34 310.87,34.74 311.45,36.08 312.03,37.46 312.61,38.88 313.19,40.34 313.77,41.82 314.35,43.34 314.93,44.87 315.51,46.43 316.09,48.00 316.67,49.59 317.24,51.18 317.82,52.77 318.40,54.36 318.98,55.95 319.56,57.52 320.14,59.09 320.72,60.64 321.30,62.16 321.88,63.66 322.46,65.15 323.04,66.63 323.62,68.10 324.19,69.58 324.77,71.07 325.35,72.57 325.93,74.10 326.51,75.66 327.09,77.25 327.67,78.89 328.25,80.57 328.83,82.31 329.41,84.13 329.99,86.06 330.57,88.06 331.14,90.14 331.72,92.27 332.30,94.44 332.88,96.62 333.46,98.82 334.04,100.99 334.62,103.14 335.20,105.25 335.78,107.29 336.36,109.26 336.94,111.15 337.52,113.06 338.09,115.00 338.67,116.94 339.25,118.84 339.83,120.68 340.41,122.41 340.99,124.02 341.57,125.47 342.15,126.73 342.73,127.81 343.31,128.86 343.89,129.89 344.46,130.89 345.04,131.85 345.62,132.77 346.20,133.63 346.78,134.42 347.36,135.14 347.94,135.77 348.52,136.32 349.10,136.76 349.68,137.10 350.26,137.31 350.84,137.46 351.41,137.61 351.99,137.74 352.57,137.86 353.15,137.97 353.73,138.07 354.31,138.15 354.89,138.21 355.47,138.26 356.05,138.29 356.63,138.30 356.63,138.30" fill="#A3A500" fill-opacity="0.3" stroke="none"/><polyline points="229.79,138.30 230.37,138.30 230.95,138.29 231.53,138.27 232.11,138.24 232.69,138.22 233.27,138.18 233.85,138.14 234.43,138.09 235.01,138.04 235.59,137.98 236.16,137.92 236.74,137.86 237.32,137.79 237.90,137.72 238.48,137.64 239.06,137.56 239.64,137.48 240.22,137.39 240.80,137.31 241.38,137.22 241.96,137.13 242.54,137.03 243.11,136.94 243.69,136.85 244.27,136.75 244.85,136.65 245.43,136.54 246.01,136.41 246.59,136.26 247.17,136.10 247.75,135.93 248.33,135.75 248.91,135.56 249.48,135.36 250.06,135.16 250.64,134.96 251.22,134.75 251.80,134.55 252.38,134.34 252.96,134.14 253.54,133.94 254.12,133.76 254.70,133.57 255.28,133.40 255.86,133.24 256.43,133.09 257.01,132.95 257.59,132.81 258.17,132.67 258.75,132.53 259.33,132.39 259.91,132.25 260.49,132.11 261.07,131.96 261.65,131.80 262.23,131.63 262.81,131.45 263.38,131.25 263.96,131.04 264.54,130.82 265.12,130.57 265.70,130.29 266.28,129.98 266.86,129.63 267.44,129.24 268.02,128.81 268.60,128.34 269.18,127.83 269.76,127.29 270.33,126.71 270.91,126.09 271.49,125.44 272.07,124.75 272.65,124.03 273.23,123.27 273.81,122.41 274.39,121.35 274.97,120.13 275.55,118.76 276.13,117.28 276.70,115.72 277.28,114.09 277.86,112.44 278.44,110.78 279.02,109.15 279.60,107.57 280.18,106.07 280.76,104.64 281.34,103.25 281.92,101.88 282.50,100.51 283.08,99.14 283.65,97.75 284.23,96.32 284.81,94.85 285.39,93.32 285.97,91.71 286.55,90.01 287.13,88.25 287.71,86.43 288.29,84.54 288.87,82.57 289.45,80.50 290.03,78.32 290.60,76.00 291.18,73.52 291.76,70.89 292.34,67.91 292.92,64.11 293.50,59.71 294.08,54.98 294.66,50.20 295.24,45.66 295.82,41.62 296.40,38.37 296.97,36.18 297.55,34.61 298.13,33.24 298.71,32.06 299.29,31.01 299.87,30.06 300.45,29.18 301.03,28.32 301.61,27.43 302.19,26.50 302.77,25.58 303.35,24.74 303.92,24.04 304.50,23.54 305.08,23.29 305.66,23.39 306.24,23.89 306.82,24.73 307.40,25.85 307.98,27.19 308.56,28.67 309.14,30.23 309.72,31.81 310.30,33.34 310.87,34.74 311.45,36.08 312.03,37.46 312.61,38.88 313.19,40.34 313.77,41.82 314.35,43.34 314.93,44.87 315.51,46.43 316.09,48.00 316.67,49.59 317.24,51.18 317.82,52.77 318.40,54.36 318.98,55.95 319.56,57.52 320.14,59.09 320.72,60.64 321.30,62.16 321.88,63.66 322.46,65.15 323.04,66.63 323.62,68.10 324.19,69.58 324.77,71.07 325.35,72.57 325.93,74.10 326.51,75.66 327.09,77.25 327.67,78.89 328.25,80.57 328.83,82.31 329.41,84.13 329.99,86.06 330.57,88.06 331.14,90.14 331.72,92.27 332.30,94.44 332.88,96.62 333.46,98.82 334.04,100.99 334.62,103.14 335.20,105.25 335.78,107.29 336.36,109.26 336.94,111.15 337.52,113.06 338.09,115.00 338.67,116.94 339.25,118.84 339.83,120.68 340.41,122.41 340.99,124.02 341.57,125.47 342.15,126.73 342.73,127.81 343.31,128.86 343.89,129.89 344.46,130.89 345.04,131.85 345.62,132.77 346.20,133.63 346.78,134.42 347.36,135.14 347.94,135.77 348.52,136.32 349.10,136.76 349.68,137.10 350.26,137.31 350.84,137.46 351.41,137.61 351.99,137.74 352.57,137.86 353.15,137.97 353.73,138.07 354.31,138.15 354.89,138.21 355.47,138.26 356.05,138.29 356.63,138.30" fill="none" stroke="#333" stroke-opacity="0.7" stroke-width="0.5"/><polygon points="229.79,138.30 229.79,138.30 230.37,138.30 230.95,138.29 231.53,138.28 232.11,138.27 232.69,138.25 233.27,138.23 233.85,138.21 234.43,138.18 235.01,138.15 235.59,138.12 236.16,138.08 236.74,138.05 237.32,138.00 237.90,137.96 238.48,137.91 239.06,137.86 239.64,137.81 240.22,137.75 240.80,137.69 241.38,137.63 241.96,137.57 242.54,137.50 243.11,137.44 243.69,137.37 244.27,137.30 244.85,137.22 245.43,137.15 246.01,137.07 246.59,136.99 247.17,136.91 247.75,136.83 248.33,136.74 248.91,136.66 249.48,136.57 250.06,136.48 250.64,136.39 251.22,136.30 251.80,136.21 252.38,136.12 252.96,136.03 253.54,135.93 254.12,135.84 254.70,135.74 255.28,135.64 255.86,135.52 256.43,135.38 257.01,135.22 257.59,135.05 258.17,134.86 258.75,134.67 259.33,134.47 259.91,134.26 260.49,134.05 261.07,133.84 261.65,133.63 262.23,133.43 262.81,133.23 263.38,133.04 263.96,132.86 264.54,132.70 265.12,132.55 265.70,132.41 266.28,132.29 266.86,132.17 267.44,132.06 268.02,131.96 268.60,131.86 269.18,131.76 269.76,131.67 270.33,131.57 270.91,131.48 271.49,131.38 272.07,131.27 272.65,131.16 273.23,131.04 273.81,130.91 274.39,130.77 274.97,130.62 275.55,130.46 276.13,130.29 276.70,130.10 277.28,129.90 277.86,129.67 278.44,129.41 279.02,129.11 279.60,128.76 280.18,128.35 280.76,127.77 281.34,126.91 281.92,125.84 282.50,124.62 283.08,123.31 283.65,121.86 284.23,120.15 284.81,118.21 285.39,116.07 285.97,113.76 286.55,111.31 287.13,108.75 287.71,106.10 288.29,103.41 288.87,100.69 289.45,97.98 290.03,95.31 290.60,92.71 291.18,90.20 291.76,87.74 292.34,85.24 292.92,82.72 293.50,80.19 294.08,77.66 294.66,75.15 295.24,72.67 295.82,70.25 296.40,67.90 296.97,65.62 297.55,63.41 298.13,61.24 298.71,59.09 299.29,56.93 299.87,54.74 300.45,52.51 301.03,50.20 301.61,47.80 302.19,45.30 302.77,42.57 303.35,39.54 303.92,36.41 304.50,33.36 305.08,30.58 305.66,28.05 306.24,25.33 306.82,22.65 307.40,20.30 307.98,18.57 308.56,17.74 309.14,17.89 309.72,18.63 310.30,19.82 310.87,21.35 311.45,23.09 312.03,24.93 312.61,26.73 313.19,28.40 313.77,29.89 314.35,31.44 314.93,33.05 315.51,34.70 316.09,36.37 316.67,38.06 317.24,39.74 317.82,41.39 318.40,43.00 318.98,44.55 319.56,46.03 320.14,47.42 320.72,48.71 321.30,49.87 321.88,50.94 322.46,51.93 323.04,52.86 323.62,53.75 324.19,54.63 324.77,55.51 325.35,56.43 325.93,57.39 326.51,58.43 327.09,59.55 327.67,60.80 328.25,62.18 328.83,63.71 329.41,65.35 329.99,67.11 330.57,68.95 331.14,70.86 331.72,72.82 332.30,74.81 332.88,76.82 333.46,78.83 334.04,80.81 334.62,82.76 335.20,84.73 335.78,86.74 336.36,88.78 336.94,90.85 337.52,92.95 338.09,95.05 338.67,97.17 339.25,99.29 339.83,101.40 340.41,103.50 340.99,105.58 341.57,107.64 342.15,109.67 342.73,111.70 343.31,113.84 343.89,116.05 344.46,118.29 345.04,120.49 345.62,122.61 346.20,124.60 346.78,126.39 347.36,127.94 347.94,129.19 348.52,130.21 349.10,131.16 349.68,132.04 350.26,132.87 350.84,133.64 351.41,134.34 351.99,135.00 352.57,135.59 353.15,136.13 353.73,136.62 354.31,137.06 354.89,137.45 355.47,137.79 356.05,138.07 356.63,138.30 356.63,138.30" fill="#00BF7D" fill-opacity="0.3" stroke="none"/><polyline points="229.79,138.30 230.37,138.30 230.95,138.29 231.53,138.28 232.11,138.27 232.69,138.25 233.27,138.23 233.85,138.21 234.43,138.18 235.01,138.15 235.59,138.12 236.16,138.08 236.74,138.05 237.32,138.00 237.90,137.96 238.48,137.91 239.06,137.86 239.64,137.81 240.22,137.75 240.80,137.69 241.38,137.63 241.96,137.57 242.54,137.50 243.11,137.44 243.69,137.37 244.27,137.30 244.85,137.22 245.43,137.15 246.01,137.07 246.59,136.99 247.17,136.91 247.75,136.83 248.33,136.74 248.91,136.66 249.48,136.57 250.06,136.48 250.64,136.39 251.22,136.30 251.80,136.21 252.38,136.12 252.96,136.03 253.54,135.93 254.12,135.84 254.70,135.74 255.28,135.64 255.86,135.52 256.43,135.38 257.01,135.22 257.59,135.05 258.17,134.86 258.75,134.67 259.33,134.47 259.91,134.26 260.49,134.05 261.07,133.84 261.65,133.63 262.23,133.43 262.81,133.23 263.38,133.04 263.96,132.86 264.54,132.70 265.12,132.55 265.70,132.41 266.28,132.29 266.86,132.17 267.44,132.06 268.02,131.96 268.60,131.86 269.18,131.76 269.76,131.67 270.33,131.57 270.91,131.48 271.49,131.38 272.07,131.27 272.65,131.16 273.23,131.04 273.81,130.91 274.39,130.77 274.97,130.62 275.55,130.46 276.13,130.29 276.70,130.10 277.28,129.90 277.86,129.67 278.44,129.41 279.02,129.11 279.60,128.76 280.18,128.35 280.76,127.77 281.34,126.91 281.92,125.84 282.50,124.62 283.08,123.31 283.65,121.86 284.23,120.15 284.81,118.21 285.39,116.07 285.97,113.76 286.55,111.31 287.13,108.75 287.71,106.10 288.29,103.41 288.87,100.69 289.45,97.98 290.03,95.31 290.60,92.71 291.18,90.20 291.76,87.74 292.34,85.24 292.92,82.72 293.50,80.19 294.08,77.66 294.66,75.15 295.24,72.67 295.82,70.25 296.40,67.90 296.97,65.62 297.55,63.41 298.13,61.24 298.71,59.09 299.29,56.93 299.87,54.74 300.45,52.51 301.03,50.20 301.61,47.80 302.19,45.30 302.77,42.57 303.35,39.54 303.92,36.41 304.50,33.36 305.08,30.58 305.66,28.05 306.24,25.33 306.82,22.65 307.40,20.30 307.98,18.57 308.56,17.74 309.14,17.89 309.72,18.63 310.30,19.82 310.87,21.35 311.45,23.09 312.03,24.93 312.61,26.73 313.19,28.40 313.77,29.89 314.35,31.44 314.93,33.05 315.51,34.70 316.09,36.37 316.67,38.06 317.24,39.74 317.82,41.39 318.40,43.00 318.98,44.55 319.56,46.03 320.14,47.42 320.72,48.71 321.30,49.87 321.88,50.94 322.46,51.93 323.04,52.86 323.62,53.75 324.19,54.63 324.77,55.51 325.35,56.43 325.93,57.39 326.51,58.43 327.09,59.55 327.67,60.80 328.25,62.18 328.83,63.71 329.41,65.35 329.99,67.11 330.57,68.95 331.14,70.86 331.72,72.82 332.30,74.81 332.88,76.82 333.46,78.83 334.04,80.81 334.62,82.76 335.20,84.73 335.78,86.74 336.36,88.78 336.94,90.85 337.52,92.95 338.09,95.05 338.67,97.17 339.25,99.29 339.83,101.40 340.41,103.50 340.99,105.58 341.57,107.64 342.15,109.67 342.73,111.70 343.31,113.84 343.89,116.05 344.46,118.29 345.04,120.49 345.62,122.61 346.20,124.60 346.78,126.39 347.36,127.94 347.94,129.19 348.52,130.21 349.10,131.16 349.68,132.04 350.26,132.87 350.84,133.64 351.41,134.34 351.99,135.00 352.57,135.59 353.15,136.13 353.73,136.62 354.31,137.06 354.89,137.45 355.47,137.79 356.05,138.07 356.63,138.30" fill="none" stroke="#333" stroke-opacity="0.7" stroke-width="0.5"/><polygon points="263.22,138.30 263.22,138.30 263.65,138.30 264.08,138.30 264.50,138.29 264.93,138.29 265.36,138.28 265.78,138.27 266.21,138.26 266.63,138.25 267.06,138.24 267.49,138.22 267.91,138.21 268.34,138.19 268.77,138.17 269.19,138.15 269.62,138.13 270.05,138.10 270.47,138.08 270.90,138.05 271.33,138.03 271.75,138.00 272.18,137.97 272.61,137.93 273.03,137.90 273.46,137.87 273.89,137.83 274.31,137.79 274.74,137.75 275.16,137.71 275.59,137.66 276.02,137.56 276.44,137.43 276.87,137.26 277.30,137.06 277.72,136.83 278.15,136.57 278.58,136.29 279.00,136.00 279.43,135.68 279.86,135.36 280.28,135.03 280.71,134.69 281.14,134.35 281.56,134.02 281.99,133.69 282.42,133.36 282.84,133.05 283.27,132.76 283.69,132.48 284.12,132.22 284.55,131.97 284.97,131.72 285.40,131.48 285.83,131.24 286.25,131.00 286.68,130.76 287.11,130.52 287.53,130.27 287.96,130.03 288.39,129.77 288.81,129.51 289.24,129.23 289.67,128.95 290.09,128.65 290.52,128.34 290.95,128.01 291.37,127.67 291.80,127.30 292.22,126.93 292.65,126.55 293.08,126.15 293.50,125.70 293.93,125.19 294.36,124.60 294.78,123.91 295.21,123.11 295.64,121.74 296.06,119.60 296.49,116.84 296.92,113.59 297.34,110.00 297.77,106.23 298.20,102.41 298.62,98.70 299.05,95.24 299.48,92.17 299.90,89.65 300.33,87.47 300.76,85.45 301.18,83.56 301.61,81.76 302.03,80.03 302.46,78.34 302.89,76.67 303.31,74.97 303.74,73.23 304.17,71.41 304.59,69.49 305.02,67.44 305.45,65.27 305.87,63.02 306.30,60.71 306.73,58.36 307.15,56.00 307.58,53.67 308.01,51.38 308.43,49.16 308.86,47.05 309.29,45.06 309.71,43.22 310.14,41.56 310.56,40.09 310.99,38.61 311.42,37.10 311.84,35.62 312.27,34.23 312.70,32.97 313.12,31.91 313.55,31.10 313.98,30.59 314.40,30.44 314.83,30.51 315.26,30.69 315.68,30.96 316.11,31.30 316.54,31.72 316.96,32.19 317.39,32.70 317.82,33.25 318.24,33.81 318.67,34.37 319.09,34.93 319.52,35.48 319.95,35.99 320.37,36.45 320.80,36.87 321.23,37.24 321.65,37.60 322.08,37.95 322.51,38.29 322.93,38.61 323.36,38.92 323.79,39.23 324.21,39.54 324.64,39.84 325.07,40.14 325.49,40.43 325.92,40.74 326.35,41.04 326.77,41.36 327.20,41.68 327.62,42.01 328.05,42.35 328.48,42.71 328.90,43.08 329.33,43.47 329.76,43.88 330.18,44.31 330.61,44.77 331.04,45.25 331.46,45.75 331.89,46.31 332.32,46.91 332.74,47.56 333.17,48.25 333.60,48.98 334.02,49.75 334.45,50.56 334.88,51.40 335.30,52.28 335.73,53.18 336.15,54.12 336.58,55.07 337.01,56.05 337.43,57.05 337.86,58.07 338.29,59.11 338.71,60.16 339.14,61.22 339.57,62.35 339.99,63.53 340.42,64.77 340.85,66.05 341.27,67.39 341.70,68.77 342.13,70.18 342.55,71.62 342.98,73.10 343.41,74.60 343.83,76.11 344.26,77.64 344.68,79.18 345.11,80.73 345.54,82.28 345.96,83.84 346.39,85.41 346.82,87.02 347.24,88.64 347.67,90.29 348.10,91.96 348.52,93.66 348.95,95.38 349.38,97.13 349.80,98.90 350.23,100.69 350.66,102.51 351.08,104.36 351.51,106.23 351.94,108.12 352.36,110.05 352.79,112.00 353.21,114.01 353.64,116.07 354.07,118.17 354.49,120.32 354.92,122.50 355.35,124.71 355.77,126.96 356.20,129.24 356.63,131.53 356.63,138.30" fill="#00B0F6" fill-opacity="0.3" stroke="none"/><polyline points="263.22,138.30 263.65,138.30 264.08,138.30 264.50,138.29 264.93,138.29 265.36,138.28 265.78,138.27 266.21,138.26 266.63,138.25 267.06,138.24 267.49,138.22 267.91,138.21 268.34,138.19 268.77,138.17 269.19,138.15 269.62,138.13 270.05,138.10 270.47,138.08 270.90,138.05 271.33,138.03 271.75,138.00 272.18,137.97 272.61,137.93 273.03,137.90 273.46,137.87 273.89,137.83 274.31,137.79 274.74,137.75 275.16,137.71 275.59,137.66 276.02,137.56 276.44,137.43 276.87,137.26 277.30,137.06 277.72,136.83 278.15,136.57 278.58,136.29 279.00,136.00 279.43,135.68 279.86,135.36 280.28,135.03 280.71,134.69 281.14,134.35 281.56,134.02 281.99,133.69 282.42,133.36 282.84,133.05 283.27,132.76 283.69,132.48 284.12,132.22 284.55,131.97 284.97,131.72 285.40,131.48 285.83,131.24 286.25,131.00 286.68,130.76 287.11,130.52 287.53,130.27 287.96,130.03 288.39,129.77 288.81,129.51 289.24,129.23 289.67,128.95 290.09,128.65 290.52,128.34 290.95,128.01 291.37,127.67 291.80,127.30 292.22,126.93 292.65,126.55 293.08,126.15 293.50,125.70 293.93,125.19 294.36,124.60 294.78,123.91 295.21,123.11 295.64,121.74 296.06,119.60 296.49,116.84 296.92,113.59 297.34,110.00 297.77,106.23 298.20,102.41 298.62,98.70 299.05,95.24 299.48,92.17 299.90,89.65 300.33,87.47 300.76,85.45 301.18,83.56 301.61,81.76 302.03,80.03 302.46,78.34 302.89,76.67 303.31,74.97 303.74,73.23 304.17,71.41 304.59,69.49 305.02,67.44 305.45,65.27 305.87,63.02 306.30,60.71 306.73,58.36 307.15,56.00 307.58,53.67 308.01,51.38 308.43,49.16 308.86,47.05 309.29,45.06 309.71,43.22 310.14,41.56 310.56,40.09 310.99,38.61 311.42,37.10 311.84,35.62 312.27,34.23 312.70,32.97 313.12,31.91 313.55,31.10 313.98,30.59 314.40,30.44 314.83,30.51 315.26,30.69 315.68,30.96 316.11,31.30 316.54,31.72 316.96,32.19 317.39,32.70 317.82,33.25 318.24,33.81 318.67,34.37 319.09,34.93 319.52,35.48 319.95,35.99 320.37,36.45 320.80,36.87 321.23,37.24 321.65,37.60 322.08,37.95 322.51,38.29 322.93,38.61 323.36,38.92 323.79,39.23 324.21,39.54 324.64,39.84 325.07,40.14 325.49,40.43 325.92,40.74 326.35,41.04 326.77,41.36 327.20,41.68 327.62,42.01 328.05,42.35 328.48,42.71 328.90,43.08 329.33,43.47 329.76,43.88 330.18,44.31 330.61,44.77 331.04,45.25 331.46,45.75 331.89,46.31 332.32,46.91 332.74,47.56 333.17,48.25 333.60,48.98 334.02,49.75 334.45,50.56 334.88,51.40 335.30,52.28 335.73,53.18 336.15,54.12 336.58,55.07 337.01,56.05 337.43,57.05 337.86,58.07 338.29,59.11 338.71,60.16 339.14,61.22 339.57,62.35 339.99,63.53 340.42,64.77 340.85,66.05 341.27,67.39 341.70,68.77 342.13,70.18 342.55,71.62 342.98,73.10 343.41,74.60 343.83,76.11 344.26,77.64 344.68,79.18 345.11,80.73 345.54,82.28 345.96,83.84 346.39,85.41 346.82,87.02 347.24,88.64 347.67,90.29 348.10,91.96 348.52,93.66 348.95,95.38 349.38,97.13 349.80,98.90 350.23,100.69 350.66,102.51 351.08,104.36 351.51,106.23 351.94,108.12 352.36,110.05 352.79,112.00 353.21,114.01 353.64,116.07 354.07,118.17 354.49,120.32 354.92,122.50 355.35,124.71 355.77,126.96 356.20,129.24 356.63,131.53" fill="none" stroke="#333" stroke-opacity="0.7" stroke-width="0.5"/><polygon points="279.45,138.30 279.45,138.30 279.80,138.29 280.15,138.27 280.50,138.23 280.86,138.19 281.21,138.13 281.56,138.05 281.91,137.97 282.27,137.88 282.62,137.78 282.97,137.67 283.32,137.56 283.67,137.44 284.03,137.31 284.38,137.18 284.73,137.05 285.08,136.91 285.44,136.77 285.79,136.62 286.14,136.45 286.49,136.26 286.85,136.04 287.20,135.79 287.55,135.53 287.90,135.24 288.26,134.93 288.61,134.61 288.96,134.27 289.31,133.91 289.67,133.54 290.02,133.16 290.37,132.77 290.72,132.37 291.08,131.96 291.43,131.55 291.78,131.13 292.13,130.71 292.49,130.29 292.84,129.87 293.19,129.44 293.54,129.03 293.90,128.61 294.25,128.20 294.60,127.79 294.95,127.38 295.30,126.96 295.66,126.55 296.01,126.12 296.36,125.70 296.71,125.26 297.07,124.82 297.42,124.37 297.77,123.90 298.12,123.43 298.48,122.94 298.83,122.43 299.18,121.91 299.53,121.38 299.89,120.82 300.24,120.25 300.59,119.65 300.94,119.03 301.30,118.39 301.65,117.72 302.00,117.03 302.35,116.31 302.71,115.54 303.06,114.71 303.41,113.83 303.76,112.89 304.12,111.89 304.47,110.85 304.82,109.75 305.17,108.59 305.53,107.39 305.88,106.15 306.23,104.85 306.58,103.51 306.93,102.13 307.29,100.70 307.64,99.24 307.99,97.73 308.34,96.18 308.70,94.55 309.05,92.68 309.40,90.62 309.75,88.41 310.11,86.08 310.46,83.69 310.81,81.26 311.16,78.86 311.52,76.51 311.87,74.25 312.22,72.15 312.57,70.19 312.93,68.26 313.28,66.35 313.63,64.46 313.98,62.60 314.34,60.78 314.69,59.01 315.04,57.29 315.39,55.64 315.75,54.06 316.10,52.57 316.45,51.16 316.80,49.84 317.16,48.55 317.51,47.29 317.86,46.06 318.21,44.86 318.56,43.69 318.92,42.56 319.27,41.45 319.62,40.38 319.97,39.34 320.33,38.34 320.68,37.37 321.03,36.43 321.38,35.52 321.74,34.65 322.09,33.81 322.44,33.01 322.79,32.24 323.15,31.49 323.50,30.76 323.85,30.03 324.20,29.32 324.56,28.63 324.91,27.95 325.26,27.30 325.61,26.66 325.97,26.05 326.32,25.47 326.67,24.90 327.02,24.37 327.38,23.86 327.73,23.39 328.08,22.94 328.43,22.53 328.79,22.15 329.14,21.80 329.49,21.44 329.84,21.08 330.19,20.73 330.55,20.38 330.90,20.04 331.25,19.71 331.60,19.40 331.96,19.10 332.31,18.82 332.66,18.57 333.01,18.34 333.37,18.15 333.72,17.98 334.07,17.86 334.42,17.76 334.78,17.71 335.13,17.71 335.48,17.81 335.83,18.02 336.19,18.32 336.54,18.72 336.89,19.20 337.24,19.75 337.60,20.38 337.95,21.06 338.30,21.80 338.65,22.58 339.01,23.40 339.36,24.24 339.71,25.11 340.06,26.00 340.42,26.89 340.77,27.90 341.12,29.10 341.47,30.49 341.82,32.03 342.18,33.71 342.53,35.49 342.88,37.36 343.23,39.29 343.59,41.26 343.94,43.25 344.29,45.23 344.64,47.17 345.00,49.07 345.35,50.89 345.70,52.69 346.05,54.51 346.41,56.37 346.76,58.24 347.11,60.12 347.46,62.01 347.82,63.90 348.17,65.80 348.52,67.69 348.87,69.56 349.23,71.42 349.58,73.26 349.93,75.07 350.28,76.85 350.64,78.61 350.99,80.36 351.34,82.10 351.69,83.84 352.05,85.56 352.40,87.28 352.75,88.99 353.10,90.68 353.45,92.37 353.81,94.04 354.16,95.71 354.51,97.37 354.86,99.01 355.22,100.64 355.57,102.26 355.92,103.87 356.27,105.47 356.63,107.06 356.63,138.30" fill="#E76BF3" fill-opacity="0.3" stroke="none"/><polyline points="279.45,138.30 279.80,138.29 280.15,138.27 280.50,138.23 280.86,138.19 281.21,138.13 281.56,138.05 281.91,137.97 282.27,137.88 282.62,137.78 282.97,137.67 283.32,137.56 283.67,137.44 284.03,137.31 284.38,137.18 284.73,137.05 285.08,136.91 285.44,136.77 285.79,136.62 286.14,136.45 286.49,136.26 286.85,136.04 287.20,135.79 287.55,135.53 287.90,135.24 288.26,134.93 288.61,134.61 288.96,134.27 289.31,133.91 289.67,133.54 290.02,133.16 290.37,132.77 290.72,132.37 291.08,131.96 291.43,131.55 291.78,131.13 292.13,130.71 292.49,130.29 292.84,129.87 293.19,129.44 293.54,129.03 293.90,128.61 294.25,128.20 294.60,127.79 294.95,127.38 295.30,126.96 295.66,126.55 296.01,126.12 296.36,125.70 296.71,125.26 297.07,124.82 297.42,124.37 297.77,123.90 298.12,123.43 298.48,122.94 298.83,122.43 299.18,121.91 299.53,121.38 299.89,120.82 300.24,120.25 300.59,119.65 300.94,119.03 301.30,118.39 301.65,117.72 302.00,117.03 302.35,116.31 302.71,115.54 303.06,114.71 303.41,113.83 303.76,112.89 304.12,111.89 304.47,110.85 304.82,109.75 305.17,108.59 305.53,107.39 305.88,106.15 306.23,104.85 306.58,103.51 306.93,102.13 307.29,100.70 307.64,99.24 307.99,97.73 308.34,96.18 308.70,94.55 309.05,92.68 309.40,90.62 309.75,88.41 310.11,86.08 310.46,83.69 310.81,81.26 311.16,78.86 311.52,76.51 311.87,74.25 312.22,72.15 312.57,70.19 312.93,68.26 313.28,66.35 313.63,64.46 313.98,62.60 314.34,60.78 314.69,59.01 315.04,57.29 315.39,55.64 315.75,54.06 316.10,52.57 316.45,51.16 316.80,49.84 317.16,48.55 317.51,47.29 317.86,46.06 318.21,44.86 318.56,43.69 318.92,42.56 319.27,41.45 319.62,40.38 319.97,39.34 320.33,38.34 320.68,37.37 321.03,36.43 321.38,35.52 321.74,34.65 322.09,33.81 322.44,33.01 322.79,32.24 323.15,31.49 323.50,30.76 323.85,30.03 324.20,29.32 324.56,28.63 324.91,27.95 325.26,27.30 325.61,26.66 325.97,26.05 326.32,25.47 326.67,24.90 327.02,24.37 327.38,23.86 327.73,23.39 328.08,22.94 328.43,22.53 328.79,22.15 329.14,21.80 329.49,21.44 329.84,21.08 330.19,20.73 330.55,20.38 330.90,20.04 331.25,19.71 331.60,19.40 331.96,19.10 332.31,18.82 332.66,18.57 333.01,18.34 333.37,18.15 333.72,17.98 334.07,17.86 334.42,17.76 334.78,17.71 335.13,17.71 335.48,17.81 335.83,18.02 336.19,18.32 336.54,18.72 336.89,19.20 337.24,19.75 337.60,20.38 337.95,21.06 338.30,21.80 338.65,22.58 339.01,23.40 339.36,24.24 339.71,25.11 340.06,26.00 340.42,26.89 340.77,27.90 341.12,29.10 341.47,30.49 341.82,32.03 342.18,33.71 342.53,35.49 342.88,37.36 343.23,39.29 343.59,41.26 343.94,43.25 344.29,45.23 344.64,47.17 345.00,49.07 345.35,50.89 345.70,52.69 346.05,54.51 346.41,56.37 346.76,58.24 347.11,60.12 347.46,62.01 347.82,63.90 348.17,65.80 348.52,67.69 348.87,69.56 349.23,71.42 349.58,73.26 349.93,75.07 350.28,76.85 350.64,78.61 350.99,80.36 351.34,82.10 351.69,83.84 352.05,85.56 352.40,87.28 352.75,88.99 353.10,90.68 353.45,92.37 353.81,94.04 354.16,95.71 354.51,97.37 354.86,99.01 355.22,100.64 355.57,102.26 355.92,103.87 356.27,105.47 356.63,107.06" fill="none" stroke="#333" stroke-opacity="0.7" stroke-width="0.5"/></g><line x1="225.00" y1="11.90" x2="363.40" y2="11.90" stroke="#dedede" stroke-width="1.2"/><line x1="225.00" y1="143.80" x2="363.40" y2="143.80" stroke="#dedede" stroke-width="1.2"/><line x1="225.00" y1="11.40" x2="225.00" y2="144.30" stroke="#d4d4d4" stroke-width="1.2"/><line x1="363.40" y1="11.40" x2="363.40" y2="144.30" stroke="#d4d4d4" stroke-width="1.2"/><text transform="translate(202.66 142.30) scale(1.070 1)" font-size="10.00" fill="#4d4d4d">0.00</text><line x1="223.60" y1="138.30" x2="225.00" y2="138.30" stroke="#c8c8c8" stroke-width="0.8"/><text transform="translate(202.82 102.00) scale(1.070 1)" font-size="10.00" fill="#4d4d4d">0.02</text><line x1="223.60" y1="98.50" x2="225.00" y2="98.50" stroke="#c8c8c8" stroke-width="0.8"/><text transform="translate(202.61 62.00) scale(1.070 1)" font-size="10.00" fill="#4d4d4d">0.04</text><line x1="223.60" y1="58.70" x2="225.00" y2="58.70" stroke="#c8c8c8" stroke-width="0.8"/><text transform="translate(202.72 21.80) scale(1.070 1)" font-size="10.00" fill="#4d4d4d">0.06</text><line x1="223.60" y1="18.90" x2="225.00" y2="18.90" stroke="#c8c8c8" stroke-width="0.8"/><text transform="translate(240.87 153.40) scale(1.100 1)" font-size="10.00" fill="#4d4d4d">30</text><line x1="247.00" y1="143.80" x2="247.00" y2="145.40" stroke="#c8c8c8" stroke-width="0.8"/><text transform="translate(265.58 153.40) scale(1.100 1)" font-size="10.00" fill="#4d4d4d">40</text><line x1="271.58" y1="143.80" x2="271.58" y2="145.40" stroke="#c8c8c8" stroke-width="0.8"/><text transform="translate(290.07 153.40) scale(1.100 1)" font-size="10.00" fill="#4d4d4d">50</text><line x1="296.16" y1="143.80" x2="296.16" y2="145.40" stroke="#c8c8c8" stroke-width="0.8"/><text transform="translate(314.61 153.40) scale(1.100 1)" font-size="10.00" fill="#4d4d4d">60</text><line x1="320.74" y1="143.80" x2="320.74" y2="145.40" stroke="#c8c8c8" stroke-width="0.8"/><text transform="translate(339.11 153.40) scale(1.100 1)" font-size="10.00" fill="#4d4d4d">70</text><line x1="345.32" y1="143.80" x2="345.32" y2="145.40" stroke="#c8c8c8" stroke-width="0.8"/><text transform="translate(225.92 164.10) scale(1.036 1)" font-size="10.60" fill="#000">Percentage of combinations</text><text transform="translate(198.90 97.30) rotate(-90) scale(1.061 1)" font-size="10.60" fill="#000">Density</text><rect x="367.90" y="59.30" width="4.80" height="7.70" fill="#F8766D" stroke="#222" stroke-width="0.6" fill-opacity="0.3"/><text transform="translate(373.26 66.20) scale(0.950 1)" font-size="8.90" fill="#000">D1</text><rect x="367.90" y="67.00" width="4.80" height="7.70" fill="#A3A500" stroke="#222" stroke-width="0.6" fill-opacity="0.3"/><text transform="translate(373.28 73.90) scale(0.950 1)" font-size="8.90" fill="#000">D2</text><rect x="367.90" y="74.70" width="4.80" height="7.70" fill="#00BF7D" stroke="#222" stroke-width="0.6" fill-opacity="0.3"/><text transform="translate(373.24 81.60) scale(0.950 1)" font-size="8.90" fill="#000">D3</text><rect x="367.90" y="82.40" width="4.80" height="7.70" fill="#00B0F6" stroke="#222" stroke-width="0.6" fill-opacity="0.3"/><text transform="translate(373.20 89.30) scale(0.950 1)" font-size="8.90" fill="#000">D4</text><rect x="367.90" y="90.10" width="4.80" height="7.70" fill="#E76BF3" stroke="#222" stroke-width="0.6" fill-opacity="0.3"/><text transform="translate(373.24 97.00) scale(0.950 1)" font-size="8.90" fill="#000">D5</text><text transform="translate(407.79 11.10) scale(0.975 1)" font-size="12.60" fill="#000">C</text><rect x="423.46" y="15.85" width="11.14" height="119.85" fill="#F8766D" stroke="none" stroke-width="1"/><line x1="429.03" y1="142.00" x2="429.03" y2="143.30" stroke="#c8c8c8" stroke-width="0.8"/><text transform="translate(432.03 186.41) rotate(-90) scale(1.000 1)" font-size="8.30" fill="#4d4d4d">Luminespid</text><rect x="435.84" y="17.16" width="11.14" height="118.54" fill="#EB8335" stroke="none" stroke-width="1"/><line x1="441.41" y1="142.00" x2="441.41" y2="143.30" stroke="#c8c8c8" stroke-width="0.8"/><text transform="translate(444.41 182.72) rotate(-90) scale(1.000 1)" font-size="8.30" fill="#4d4d4d">Navitoclax</text><rect x="448.22" y="18.80" width="11.14" height="116.90" fill="#DA8F00" stroke="none" stroke-width="1"/><line x1="453.79" y1="142.00" x2="453.79" y2="143.30" stroke="#c8c8c8" stroke-width="0.8"/><text transform="translate(456.79 178.78) rotate(-90) scale(1.000 1)" font-size="8.30" fill="#4d4d4d">Dasatinib</text><rect x="460.60" y="22.88" width="11.14" height="112.82" fill="#C49A00" stroke="none" stroke-width="1"/><line x1="466.18" y1="142.00" x2="466.18" y2="143.30" stroke="#c8c8c8" stroke-width="0.8"/><text transform="translate(469.18 181.35) rotate(-90) scale(1.000 1)" font-size="8.30" fill="#4d4d4d">Vorinostat</text><rect x="472.99" y="23.38" width="11.14" height="112.32" fill="#A9A400" stroke="none" stroke-width="1"/><line x1="478.56" y1="142.00" x2="478.56" y2="143.30" stroke="#c8c8c8" stroke-width="0.8"/><text transform="translate(481.56 174.13) rotate(-90) scale(1.000 1)" font-size="8.30" fill="#4d4d4d">Pictilisib</text><rect x="485.37" y="25.50" width="11.14" height="110.20" fill="#86AC00" stroke="none" stroke-width="1"/><line x1="490.94" y1="142.00" x2="490.94" y2="143.30" stroke="#c8c8c8" stroke-width="0.8"/><text transform="translate(493.94 179.15) rotate(-90) scale(1.000 1)" font-size="8.30" fill="#4d4d4d">AZD7762</text><rect x="497.75" y="30.24" width="11.14" height="105.46" fill="#53B400" stroke="none" stroke-width="1"/><line x1="503.32" y1="142.00" x2="503.32" y2="143.30" stroke="#c8c8c8" stroke-width="0.8"/><text transform="translate(506.32 186.12) rotate(-90) scale(1.000 1)" font-size="8.30" fill="#4d4d4d">Bortezomib</text><rect x="510.13" y="36.78" width="11.14" height="98.92" fill="#00BA38" stroke="none" stroke-width="1"/><line x1="515.70" y1="142.00" x2="515.70" y2="143.30" stroke="#c8c8c8" stroke-width="0.8"/><text transform="translate(518.70 181.97) rotate(-90) scale(1.000 1)" font-size="8.30" fill="#4d4d4d">Tozasertib</text><rect x="522.51" y="41.36" width="11.14" height="94.34" fill="#00BE6D" stroke="none" stroke-width="1"/><line x1="528.09" y1="142.00" x2="528.09" y2="143.30" stroke="#c8c8c8" stroke-width="0.8"/><text transform="translate(531.09 177.08) rotate(-90) scale(1.000 1)" font-size="8.30" fill="#4d4d4d">OSI−027</text><rect x="534.90" y="50.68" width="11.14" height="85.02" fill="#00C094" stroke="none" stroke-width="1"/><line x1="540.47" y1="142.00" x2="540.47" y2="143.30" stroke="#c8c8c8" stroke-width="0.8"/><text transform="translate(543.47 175.09) rotate(-90) scale(1.000 1)" font-size="8.30" fill="#4d4d4d">Alpelisib</text><rect x="547.28" y="54.77" width="11.14" height="80.93" fill="#00C0B5" stroke="none" stroke-width="1"/><line x1="552.85" y1="142.00" x2="552.85" y2="143.30" stroke="#c8c8c8" stroke-width="0.8"/><text transform="translate(555.85 176.46) rotate(-90) scale(1.000 1)" font-size="8.30" fill="#4d4d4d">Linsitinib</text><rect x="559.66" y="59.18" width="11.14" height="76.52" fill="#00BDD2" stroke="none" stroke-width="1"/><line x1="565.23" y1="142.00" x2="565.23" y2="143.30" stroke="#c8c8c8" stroke-width="0.8"/><text transform="translate(568.23 177.87) rotate(-90) scale(1.000 1)" font-size="8.30" fill="#4d4d4d">Lapatinib</text><rect x="572.04" y="60.82" width="11.14" height="74.88" fill="#00B6EB" stroke="none" stroke-width="1"/><line x1="577.61" y1="142.00" x2="577.61" y2="143.30" stroke="#c8c8c8" stroke-width="0.8"/><text transform="translate(580.61 175.54) rotate(-90) scale(1.000 1)" font-size="8.30" fill="#4d4d4d">Olaparib</text><rect x="584.42" y="66.21" width="11.14" height="69.49" fill="#00ABFD" stroke="none" stroke-width="1"/><line x1="590.00" y1="142.00" x2="590.00" y2="143.30" stroke="#c8c8c8" stroke-width="0.8"/><text transform="translate(593.00 183.05) rotate(-90) scale(1.000 1)" font-size="8.30" fill="#4d4d4d">Trametinib</text><rect x="596.81" y="69.16" width="11.14" height="66.54" fill="#619CFF" stroke="none" stroke-width="1"/><line x1="602.38" y1="142.00" x2="602.38" y2="143.30" stroke="#c8c8c8" stroke-width="0.8"/><text transform="translate(605.38 178.74) rotate(-90) scale(1.000 1)" font-size="8.30" fill="#4d4d4d">Crizotinib</text><rect x="609.19" y="76.51" width="11.14" height="59.19" fill="#A58AFF" stroke="none" stroke-width="1"/><line x1="614.76" y1="142.00" x2="614.76" y2="143.30" stroke="#c8c8c8" stroke-width="0.8"/><text transform="translate(617.76 186.41) rotate(-90) scale(1.000 1)" font-size="8.30" fill="#4d4d4d">Phenformin</text><rect x="621.57" y="80.44" width="11.14" height="55.26" fill="#D078FF" stroke="none" stroke-width="1"/><line x1="627.14" y1="142.00" x2="627.14" y2="143.30" stroke="#c8c8c8" stroke-width="0.8"/><text transform="translate(630.14 165.17) rotate(-90) scale(1.000 1)" font-size="8.30" fill="#4d4d4d">Nutlin</text><rect x="633.95" y="81.58" width="11.14" height="54.12" fill="#EC69EF" stroke="none" stroke-width="1"/><line x1="639.52" y1="142.00" x2="639.52" y2="143.30" stroke="#c8c8c8" stroke-width="0.8"/><text transform="translate(642.52 183.84) rotate(-90) scale(1.000 1)" font-size="8.30" fill="#4d4d4d">Palbociclib</text><rect x="646.33" y="89.10" width="11.14" height="46.60" fill="#FB61D7" stroke="none" stroke-width="1"/><line x1="651.91" y1="142.00" x2="651.91" y2="143.30" stroke="#c8c8c8" stroke-width="0.8"/><text transform="translate(654.91 176.46) rotate(-90) scale(1.000 1)" font-size="8.30" fill="#4d4d4d">Foretinib</text><rect x="658.72" y="109.54" width="11.14" height="26.16" fill="#FF63B9" stroke="none" stroke-width="1"/><line x1="664.29" y1="142.00" x2="664.29" y2="143.30" stroke="#c8c8c8" stroke-width="0.8"/><text transform="translate(667.29 183.34) rotate(-90) scale(1.000 1)" font-size="8.30" fill="#4d4d4d">Decitabine</text><rect x="671.10" y="110.36" width="11.14" height="25.34" fill="#FF6B96" stroke="none" stroke-width="1"/><line x1="676.67" y1="142.00" x2="676.67" y2="143.30" stroke="#c8c8c8" stroke-width="0.8"/><text transform="translate(679.67 188.70) rotate(-90) scale(1.000 1)" font-size="8.30" fill="#4d4d4d">Pemetrexed</text><line x1="421.60" y1="10.30" x2="684.10" y2="10.30" stroke="#dadada" stroke-width="1.0"/><line x1="421.60" y1="142.00" x2="684.10" y2="142.00" stroke="#dadada" stroke-width="1.0"/><line x1="421.60" y1="9.80" x2="421.60" y2="142.50" stroke="#d0d0d0" stroke-width="1.0"/><line x1="684.10" y1="9.80" x2="684.10" y2="142.50" stroke="#d0d0d0" stroke-width="1.0"/><text transform="translate(415.47 139.30) scale(1.000 1)" font-size="8.90" fill="#4d4d4d">0</text><line x1="420.40" y1="135.70" x2="421.60" y2="135.70" stroke="#c8c8c8" stroke-width="0.8"/><text transform="translate(415.61 106.60) scale(1.000 1)" font-size="8.90" fill="#4d4d4d">2</text><line x1="420.40" y1="103.00" x2="421.60" y2="103.00" stroke="#c8c8c8" stroke-width="0.8"/><text transform="translate(415.43 74.00) scale(1.000 1)" font-size="8.90" fill="#4d4d4d">4</text><line x1="420.40" y1="70.30" x2="421.60" y2="70.30" stroke="#c8c8c8" stroke-width="0.8"/><text transform="translate(415.52 41.40) scale(1.000 1)" font-size="8.90" fill="#4d4d4d">6</text><line x1="420.40" y1="37.60" x2="421.60" y2="37.60" stroke="#c8c8c8" stroke-width="0.8"/><text transform="translate(531.40 205.20) scale(1.007 1)" font-size="7.80" fill="#000">Anchor Drug</text><text transform="translate(414.00 130.18) rotate(-90) scale(1.045 1)" font-size="8.00" fill="#000">Synergistic combinations (%)</text><clipPath id="clipD"><rect x="30.4" y="225.4" width="214.0" height="166.79999999999998"/></clipPath><g clip-path="url(#clipD)"><polyline points="30.40,225.40 37.75,390.50" fill="none" stroke="#a020f0" stroke-width="1.3" stroke-linejoin="round" stroke-linecap="butt"/><polyline points="30.40,225.40 37.75,390.50 45.10,390.50 52.45,390.50" fill="none" stroke="#000080" stroke-width="1.3" stroke-linejoin="round" stroke-linecap="butt"/><polyline points="30.40,249.70 37.75,379.70 45.10,384.50 52.45,387.70 59.80,389.00 67.15,389.80 74.50,390.20 81.85,390.50" fill="none" stroke="#87ceeb" stroke-width="1.3" stroke-linejoin="round" stroke-linecap="butt"/><polyline points="30.40,274.00 37.75,369.00 45.10,379.70 52.45,387.00 59.80,388.40 67.15,389.00 74.50,389.50 81.85,389.80 89.20,390.50 96.55,390.50" fill="none" stroke="#ffa500" stroke-width="1.3" stroke-linejoin="round" stroke-linecap="butt"/><polyline points="30.40,321.90 37.75,337.70 45.10,357.00 52.45,386.00 59.80,388.00 67.15,388.80 74.50,389.40 81.85,389.80 89.20,390.30 96.55,390.50" fill="none" stroke="#d3d3d3" stroke-width="1.3" stroke-linejoin="round" stroke-linecap="butt"/><polyline points="30.40,342.90 37.75,337.70 45.10,357.80 52.45,385.00 59.80,385.80 67.15,386.40 74.50,388.50 81.85,388.80 89.20,389.50 96.55,389.80 103.90,390.10 111.25,390.50 118.60,390.50 125.95,390.50" fill="none" stroke="#000000" stroke-width="1.3" stroke-linejoin="round" stroke-linecap="butt"/><polyline points="30.40,380.20 37.75,357.80 45.10,335.00 52.45,371.00 59.80,380.00 67.15,381.30 74.50,387.70 81.85,386.20 89.20,388.30 96.55,387.30 103.90,388.50 111.25,389.60 118.60,389.50 125.95,389.80 133.30,390.00 140.65,390.30 148.00,390.50 155.35,390.50 162.70,390.50 170.05,390.50" fill="none" stroke="#ff0000" stroke-width="1.3" stroke-linejoin="round" stroke-linecap="butt"/><polyline points="30.40,390.50 37.75,390.50 45.10,383.00 52.45,379.00 59.80,375.10 67.15,359.90 74.50,369.80 81.85,366.30 89.20,378.00 96.55,382.60 103.90,382.30 111.25,387.10 118.60,387.30 125.95,387.60 133.30,387.90 140.65,389.60 148.00,389.00 155.35,388.30 162.70,390.00 170.05,389.50 177.40,390.00 184.75,390.50 192.10,390.50" fill="none" stroke="#00ff00" stroke-width="1.3" stroke-linejoin="round" stroke-linecap="butt"/><polyline points="30.40,390.50 37.75,390.50 45.10,390.50 52.45,390.50 59.80,390.50 67.15,390.50 74.50,390.50 81.85,389.60 89.20,388.50 96.55,386.70 103.90,385.00 111.25,383.00 118.60,372.00 125.95,375.00 133.30,364.30 140.65,374.30 148.00,374.70 155.35,371.30 162.70,382.20 170.05,381.80 177.40,386.60 184.75,387.50 192.10,388.70 199.45,390.40 206.80,390.50 214.15,390.50" fill="none" stroke="#0000ff" stroke-width="1.3" stroke-linejoin="round" stroke-linecap="butt"/></g><line x1="30.40" y1="225.40" x2="244.40" y2="225.40" stroke="#dcdcdc" stroke-width="1.0"/><line x1="30.40" y1="391.20" x2="244.40" y2="391.20" stroke="#dcdcdc" stroke-width="1.0"/><line x1="30.40" y1="224.90" x2="30.40" y2="391.70" stroke="#c4c4c4" stroke-width="1.0"/><line x1="244.40" y1="224.90" x2="244.40" y2="391.70" stroke="#c4c4c4" stroke-width="1.0"/><text transform="translate(1.53 218.60) scale(0.945 1)" font-size="12.80" fill="#000">D</text><text transform="translate(34.36 237.60) scale(1.068 1)" font-size="10.60" fill="#000" font-weight="bold">Navitoclax</text><text transform="translate(13.76 393.00) scale(1.060 1)" font-size="10.40" fill="#4d4d4d">0.0</text><line x1="28.60" y1="390.50" x2="30.40" y2="390.50" stroke="#c8c8c8" stroke-width="0.8"/><text transform="translate(13.87 337.90) scale(1.060 1)" font-size="10.40" fill="#4d4d4d">0.1</text><line x1="28.60" y1="334.60" x2="30.40" y2="334.60" stroke="#c8c8c8" stroke-width="0.8"/><text transform="translate(13.93 281.20) scale(1.060 1)" font-size="10.40" fill="#4d4d4d">0.2</text><line x1="28.60" y1="278.70" x2="30.40" y2="278.70" stroke="#c8c8c8" stroke-width="0.8"/><text transform="translate(27.33 400.50) scale(1.120 1)" font-size="9.80" fill="#4d4d4d">0</text><line x1="30.40" y1="391.20" x2="30.40" y2="392.80" stroke="#c8c8c8" stroke-width="0.8"/><text transform="translate(77.75 400.50) scale(1.120 1)" font-size="9.80" fill="#4d4d4d">25</text><line x1="83.90" y1="391.20" x2="83.90" y2="392.80" stroke="#c8c8c8" stroke-width="0.8"/><text transform="translate(131.28 400.50) scale(1.120 1)" font-size="9.80" fill="#4d4d4d">50</text><line x1="137.40" y1="391.20" x2="137.40" y2="392.80" stroke="#c8c8c8" stroke-width="0.8"/><text transform="translate(184.75 400.50) scale(1.120 1)" font-size="9.80" fill="#4d4d4d">75</text><line x1="190.90" y1="391.20" x2="190.90" y2="392.80" stroke="#c8c8c8" stroke-width="0.8"/><text transform="translate(235.24 400.50) scale(1.120 1)" font-size="9.80" fill="#4d4d4d">100</text><line x1="244.40" y1="391.20" x2="244.40" y2="392.80" stroke="#c8c8c8" stroke-width="0.8"/><text transform="translate(71.28 411.60) scale(1.149 1)" font-size="10.00" fill="#000">Percent of total screened</text><text transform="translate(10.00 326.60) rotate(-90) scale(1.000 1)" font-size="11.21" fill="#000">Density</text><text transform="translate(161.53 256.80) scale(0.987 1)" font-size="8.60" fill="#000">Threshold</text><line x1="161.70" y1="266.30" x2="165.90" y2="266.30" stroke="#a020f0" stroke-width="1.3"/><text transform="translate(170.37 269.20) scale(1.000 1)" font-size="8.30">0.1</text><line x1="161.70" y1="274.23" x2="165.90" y2="274.23" stroke="#000080" stroke-width="1.3"/><text transform="translate(170.37 277.13) scale(1.000 1)" font-size="8.30">0.2</text><line x1="161.70" y1="282.16" x2="165.90" y2="282.16" stroke="#87ceeb" stroke-width="1.3"/><text transform="translate(170.37 285.06) scale(1.000 1)" font-size="8.30">0.5</text><line x1="161.70" y1="290.09" x2="165.90" y2="290.09" stroke="#ffa500" stroke-width="1.3"/><text transform="translate(170.37 293.00) scale(1.000 1)" font-size="8.30">0.6</text><line x1="161.70" y1="298.02" x2="165.90" y2="298.02" stroke="#d3d3d3" stroke-width="1.3"/><text transform="translate(170.37 300.92) scale(1.000 1)" font-size="8.30">0.7</text><line x1="161.70" y1="305.95" x2="165.90" y2="305.95" stroke="#000000" stroke-width="1.3"/><text transform="translate(170.37 308.85) scale(1.000 1)" font-size="8.30">0.732</text><line x1="161.70" y1="313.88" x2="165.90" y2="313.88" stroke="#ff0000" stroke-width="1.3"/><text transform="translate(170.37 316.78) scale(1.000 1)" font-size="8.30">0.8</text><line x1="161.70" y1="321.81" x2="165.90" y2="321.81" stroke="#00ff00" stroke-width="1.3"/><text transform="translate(170.37 324.71) scale(1.000 1)" font-size="8.30">0.9</text><line x1="161.70" y1="329.74" x2="165.90" y2="329.74" stroke="#0000ff" stroke-width="1.3"/><text transform="translate(170.08 332.64) scale(1.000 1)" font-size="8.30">1</text><clipPath id="clipE"><rect x="357.9" y="236.4" width="205.30000000000007" height="159.99999999999997"/></clipPath><g clip-path="url(#clipE)"><polyline points="358.10,236.40 363.44,395.40" fill="none" stroke="#a020f0" stroke-width="1.3" stroke-linejoin="round" stroke-linecap="butt"/><polyline points="358.10,236.40 363.44,395.40 368.78,395.40" fill="none" stroke="#000080" stroke-width="1.3" stroke-linejoin="round" stroke-linecap="butt"/><polyline points="358.10,266.00 363.44,380.00 368.78,389.50 374.12,393.70 379.46,394.60 384.80,395.20 390.14,395.40" fill="none" stroke="#87ceeb" stroke-width="1.3" stroke-linejoin="round" stroke-linecap="butt"/><polyline points="358.10,309.10 363.44,340.00 368.78,382.50 374.12,389.50 379.46,394.00 384.80,395.00 390.14,395.40" fill="none" stroke="#ffa500" stroke-width="1.3" stroke-linejoin="round" stroke-linecap="butt"/><polyline points="358.10,395.00 363.44,313.30 368.78,346.00 374.12,365.70 379.46,381.00 384.80,388.00 390.14,392.30 395.48,394.00 400.82,395.00 406.16,395.40" fill="none" stroke="#d3d3d3" stroke-width="1.3" stroke-linejoin="round" stroke-linecap="butt"/><polyline points="358.10,395.40 363.44,324.50 368.78,348.30 374.12,369.90 379.46,384.60 384.80,390.20 390.14,393.00 395.48,394.40 400.82,395.00 406.16,395.40" fill="none" stroke="#000000" stroke-width="1.3" stroke-linejoin="round" stroke-linecap="butt"/><polyline points="358.10,395.10 363.44,393.00 368.78,352.40 374.12,352.40 379.46,365.70 384.80,379.00 390.14,386.00 395.48,388.80 400.82,393.00 406.16,393.70 411.50,394.60 416.84,395.00 422.18,395.40 427.52,395.40 432.86,395.40 438.20,395.40 443.54,395.40 448.88,395.40 454.22,395.40 459.56,395.40" fill="none" stroke="#ff0000" stroke-width="1.3" stroke-linejoin="round" stroke-linecap="butt"/><polyline points="358.10,395.40 363.44,395.40 368.78,395.40 374.12,395.40 379.46,394.40 384.80,391.60 390.14,378.30 395.48,362.90 400.82,367.10 406.16,368.50 411.50,374.10 416.84,381.10 422.18,388.40 427.52,391.60 432.86,394.60 438.20,395.40 443.54,395.40 448.88,395.40 454.22,395.40 459.56,395.40 464.90,395.40 470.24,395.40 475.58,395.40 480.92,395.40" fill="none" stroke="#00ff00" stroke-width="1.3" stroke-linejoin="round" stroke-linecap="butt"/><polyline points="358.10,395.40 363.44,395.40 368.78,395.40 374.12,395.40 379.46,395.40 384.80,395.00 390.14,393.70 395.48,393.60 400.82,393.20 406.16,393.00 411.50,392.60 416.84,392.30 422.18,392.00 427.52,391.60 432.86,390.10 438.20,387.80 443.54,387.00 448.88,380.80 454.22,373.20 459.56,368.00 464.90,368.90 470.24,377.90 475.58,387.20 480.92,392.50 486.26,394.80 491.60,395.40" fill="none" stroke="#0000ff" stroke-width="1.3" stroke-linejoin="round" stroke-linecap="butt"/></g><line x1="357.90" y1="236.40" x2="563.20" y2="236.40" stroke="#dcdcdc" stroke-width="1.0"/><line x1="357.90" y1="395.40" x2="563.20" y2="395.40" stroke="#dcdcdc" stroke-width="1.0"/><line x1="357.90" y1="235.90" x2="357.90" y2="395.90" stroke="#c4c4c4" stroke-width="1.0"/><line x1="563.20" y1="235.90" x2="563.20" y2="395.90" stroke="#c4c4c4" stroke-width="1.0"/><text transform="translate(325.92 218.60) scale(0.860 1)" font-size="12.80" fill="#000">E</text><text transform="translate(341.54 397.00) scale(1.100 1)" font-size="9.70" fill="#4d4d4d">0.0</text><line x1="356.20" y1="395.40" x2="357.90" y2="395.40" stroke="#c8c8c8" stroke-width="0.8"/><text transform="translate(341.65 357.90) scale(1.100 1)" font-size="9.70" fill="#4d4d4d">0.1</text><line x1="356.20" y1="353.90" x2="357.90" y2="353.90" stroke="#c8c8c8" stroke-width="0.8"/><text transform="translate(341.70 316.20) scale(1.100 1)" font-size="9.70" fill="#4d4d4d">0.2</text><line x1="356.20" y1="312.40" x2="357.90" y2="312.40" stroke="#c8c8c8" stroke-width="0.8"/><text transform="translate(341.60 274.90) scale(1.100 1)" font-size="9.70" fill="#4d4d4d">0.3</text><line x1="356.20" y1="270.90" x2="357.90" y2="270.90" stroke="#c8c8c8" stroke-width="0.8"/><text transform="translate(354.53 403.60) scale(1.120 1)" font-size="9.80" fill="#4d4d4d">0</text><line x1="358.10" y1="395.40" x2="358.10" y2="397.00" stroke="#c8c8c8" stroke-width="0.8"/><text transform="translate(402.85 403.60) scale(1.120 1)" font-size="9.80" fill="#4d4d4d">25</text><line x1="409.38" y1="395.40" x2="409.38" y2="397.00" stroke="#c8c8c8" stroke-width="0.8"/><text transform="translate(454.08 403.60) scale(1.120 1)" font-size="9.80" fill="#4d4d4d">50</text><line x1="460.65" y1="395.40" x2="460.65" y2="397.00" stroke="#c8c8c8" stroke-width="0.8"/><text transform="translate(505.45 403.60) scale(1.120 1)" font-size="9.80" fill="#4d4d4d">75</text><line x1="511.93" y1="395.40" x2="511.93" y2="397.00" stroke="#c8c8c8" stroke-width="0.8"/><text transform="translate(552.84 403.60) scale(1.120 1)" font-size="9.80" fill="#4d4d4d">100</text><line x1="563.20" y1="395.40" x2="563.20" y2="397.00" stroke="#c8c8c8" stroke-width="0.8"/><text transform="translate(397.12 416.20) scale(1.105 1)" font-size="10.00" fill="#000">Percent of total screened</text><text transform="translate(337.60 334.80) rotate(-90) scale(1.067 1)" font-size="10.60" fill="#000">Density</text><text transform="translate(484.14 266.80) scale(0.969 1)" font-size="8.40" fill="#000">Threshold</text><line x1="484.30" y1="275.20" x2="488.50" y2="275.20" stroke="#a020f0" stroke-width="1.3"/><text transform="translate(492.58 278.00) scale(1.000 1)" font-size="8.00">0.1</text><line x1="484.30" y1="282.89" x2="488.50" y2="282.89" stroke="#000080" stroke-width="1.3"/><text transform="translate(492.58 285.69) scale(1.000 1)" font-size="8.00">0.2</text><line x1="484.30" y1="290.58" x2="488.50" y2="290.58" stroke="#87ceeb" stroke-width="1.3"/><text transform="translate(492.58 293.38) scale(1.000 1)" font-size="8.00">0.5</text><line x1="484.30" y1="298.27" x2="488.50" y2="298.27" stroke="#ffa500" stroke-width="1.3"/><text transform="translate(492.58 301.07) scale(1.000 1)" font-size="8.00">0.6</text><line x1="484.30" y1="305.96" x2="488.50" y2="305.96" stroke="#d3d3d3" stroke-width="1.3"/><text transform="translate(492.58 308.76) scale(1.000 1)" font-size="8.00">0.7</text><line x1="484.30" y1="313.65" x2="488.50" y2="313.65" stroke="#000000" stroke-width="1.3"/><text transform="translate(492.58 316.45) scale(1.000 1)" font-size="8.00">0.732</text><line x1="484.30" y1="321.34" x2="488.50" y2="321.34" stroke="#ff0000" stroke-width="1.3"/><text transform="translate(492.58 324.14) scale(1.000 1)" font-size="8.00">0.8</text><line x1="484.30" y1="329.03" x2="488.50" y2="329.03" stroke="#00ff00" stroke-width="1.3"/><text transform="translate(492.58 331.83) scale(1.000 1)" font-size="8.00">0.9</text><line x1="484.30" y1="336.72" x2="488.50" y2="336.72" stroke="#0000ff" stroke-width="1.3"/><text transform="translate(492.30 339.52) scale(1.000 1)" font-size="8.00">1</text><clipPath id="clipF"><rect x="40.7" y="458.5" width="226.10000000000002" height="175.79999999999995"/></clipPath><g clip-path="url(#clipF)"><polyline points="40.85,632.60 48.72,632.60 56.59,632.60" fill="none" stroke="#a020f0" stroke-width="1.3" stroke-linejoin="round" stroke-linecap="butt"/><polyline points="40.85,632.60 48.72,632.60 56.59,632.60" fill="none" stroke="#000080" stroke-width="1.3" stroke-linejoin="round" stroke-linecap="butt"/><polyline points="40.85,632.60 48.72,632.60 56.59,632.60" fill="none" stroke="#87ceeb" stroke-width="1.3" stroke-linejoin="round" stroke-linecap="butt"/><polyline points="40.85,458.50 48.72,632.30 56.59,632.60 64.46,632.60" fill="none" stroke="#ffa500" stroke-width="1.3" stroke-linejoin="round" stroke-linecap="butt"/><polyline points="40.85,471.00 48.72,620.60 56.59,632.30 64.46,632.60" fill="none" stroke="#d3d3d3" stroke-width="1.3" stroke-linejoin="round" stroke-linecap="butt"/><polyline points="40.85,505.00 48.72,595.50 56.59,624.80 64.46,631.50 72.33,632.20 80.20,632.60" fill="none" stroke="#000000" stroke-width="1.3" stroke-linejoin="round" stroke-linecap="butt"/><polyline points="40.85,570.00 48.72,576.70 56.59,610.20 64.46,616.40 72.33,622.30 80.20,629.30 88.07,632.20 95.94,632.60 103.81,632.60 111.68,632.60 119.55,632.60 127.42,632.60 135.29,632.60 143.16,632.60 151.03,632.60 158.90,632.60" fill="none" stroke="#ff0000" stroke-width="1.3" stroke-linejoin="round" stroke-linecap="butt"/><polyline points="40.85,632.60 48.72,614.00 56.59,596.80 64.46,603.90 72.33,614.80 80.20,615.60 88.07,621.50 95.94,622.30 103.81,625.70 111.68,623.70 119.55,626.30 127.42,628.00 135.29,630.00 143.16,631.50 151.03,632.20 158.90,632.60 166.77,632.60 174.64,632.60 182.51,632.60 190.38,632.60 198.25,632.60 206.12,632.60 213.99,632.60 221.86,632.60" fill="none" stroke="#00ff00" stroke-width="1.3" stroke-linejoin="round" stroke-linecap="butt"/><polyline points="40.85,632.60 48.72,632.60 56.59,632.60 64.46,632.60 72.33,632.60 80.20,632.60 88.07,632.60 95.94,632.60 103.81,630.70 111.68,628.20 119.55,627.20 127.42,625.00 135.29,623.50 143.16,621.50 151.03,616.60 158.90,616.60 166.77,617.20 174.64,616.00 182.51,615.00 190.38,619.20 198.25,620.70 206.12,622.10 213.99,627.20 221.86,630.00 229.73,632.60 237.60,632.60" fill="none" stroke="#0000ff" stroke-width="1.3" stroke-linejoin="round" stroke-linecap="butt"/></g><line x1="40.70" y1="458.50" x2="266.80" y2="458.50" stroke="#dcdcdc" stroke-width="1.0"/><line x1="40.70" y1="633.30" x2="266.80" y2="633.30" stroke="#dcdcdc" stroke-width="1.0"/><line x1="40.70" y1="458.00" x2="40.70" y2="633.80" stroke="#c4c4c4" stroke-width="1.0"/><line x1="266.80" y1="458.00" x2="266.80" y2="633.80" stroke="#c4c4c4" stroke-width="1.0"/><text transform="translate(1.44 450.60) scale(0.941 1)" font-size="12.80" fill="#000">F</text><text transform="translate(23.60 634.10) scale(1.100 1)" font-size="10.20" fill="#4d4d4d">0.0</text><line x1="39.00" y1="632.60" x2="40.70" y2="632.60" stroke="#c8c8c8" stroke-width="0.8"/><text transform="translate(23.71 576.40) scale(1.100 1)" font-size="10.20" fill="#4d4d4d">0.1</text><line x1="39.00" y1="573.10" x2="40.70" y2="573.10" stroke="#c8c8c8" stroke-width="0.8"/><text transform="translate(23.77 515.90) scale(1.100 1)" font-size="10.20" fill="#4d4d4d">0.2</text><line x1="39.00" y1="513.60" x2="40.70" y2="513.60" stroke="#c8c8c8" stroke-width="0.8"/><text transform="translate(37.58 643.00) scale(1.120 1)" font-size="10.60" fill="#4d4d4d">0</text><line x1="40.85" y1="633.30" x2="40.85" y2="634.90" stroke="#c8c8c8" stroke-width="0.8"/><text transform="translate(90.75 643.00) scale(1.120 1)" font-size="10.60" fill="#4d4d4d">25</text><line x1="97.35" y1="633.30" x2="97.35" y2="634.90" stroke="#c8c8c8" stroke-width="0.8"/><text transform="translate(147.18 643.00) scale(1.120 1)" font-size="10.60" fill="#4d4d4d">50</text><line x1="153.85" y1="633.30" x2="153.85" y2="634.90" stroke="#c8c8c8" stroke-width="0.8"/><text transform="translate(203.55 643.00) scale(1.120 1)" font-size="10.60" fill="#4d4d4d">75</text><line x1="210.35" y1="633.30" x2="210.35" y2="634.90" stroke="#c8c8c8" stroke-width="0.8"/><text transform="translate(256.78 643.00) scale(1.120 1)" font-size="10.60" fill="#4d4d4d">100</text><line x1="266.85" y1="633.30" x2="266.85" y2="634.90" stroke="#c8c8c8" stroke-width="0.8"/><text transform="translate(83.93 655.30) scale(1.143 1)" font-size="10.60" fill="#000">Percent of total screened</text><text transform="translate(18.60 566.69) rotate(-90) scale(1.108 1)" font-size="11.20" fill="#000">Density</text><text transform="translate(179.12 491.20) scale(0.980 1)" font-size="9.10" fill="#000">Threshold</text><line x1="179.30" y1="501.40" x2="183.50" y2="501.40" stroke="#a020f0" stroke-width="1.3"/><text transform="translate(188.38 504.41) scale(0.980 1)" font-size="8.60">−0.8</text><line x1="179.30" y1="509.79" x2="183.50" y2="509.79" stroke="#000080" stroke-width="1.3"/><text transform="translate(188.38 512.80) scale(0.980 1)" font-size="8.60">−0.7</text><line x1="179.30" y1="518.18" x2="183.50" y2="518.18" stroke="#87ceeb" stroke-width="1.3"/><text transform="translate(188.38 521.19) scale(0.980 1)" font-size="8.60">−0.6</text><line x1="179.30" y1="526.57" x2="183.50" y2="526.57" stroke="#ffa500" stroke-width="1.3"/><text transform="translate(188.38 529.58) scale(0.980 1)" font-size="8.60">−0.5</text><line x1="179.30" y1="534.96" x2="183.50" y2="534.96" stroke="#d3d3d3" stroke-width="1.3"/><text transform="translate(188.38 537.97) scale(0.980 1)" font-size="8.60">−0.4</text><line x1="179.30" y1="543.35" x2="183.50" y2="543.35" stroke="#000000" stroke-width="1.3"/><text transform="translate(188.38 546.36) scale(0.980 1)" font-size="8.60">−0.3</text><line x1="179.30" y1="551.74" x2="183.50" y2="551.74" stroke="#ff0000" stroke-width="1.3"/><text transform="translate(188.38 554.75) scale(0.980 1)" font-size="8.60">−0.2</text><line x1="179.30" y1="560.13" x2="183.50" y2="560.13" stroke="#00ff00" stroke-width="1.3"/><text transform="translate(188.38 563.14) scale(0.980 1)" font-size="8.60">−0.1</text><line x1="179.30" y1="568.52" x2="183.50" y2="568.52" stroke="#0000ff" stroke-width="1.3"/><text transform="translate(188.46 571.53) scale(0.980 1)" font-size="8.60">0</text><text transform="translate(317.57 450.70) scale(0.978 1)" font-size="12.80" fill="#000">G</text><line x1="369.18" y1="628.20" x2="369.18" y2="629.90" stroke="#c0c0c0" stroke-width="0.8"/><text transform="translate(373.08 692.63) rotate(-90) scale(1.120 1)" font-size="10.10" fill="#4d4d4d">Bortezomib</text><rect x="365.89" y="594.02" width="6.56" height="26.58" fill="#F8766D" stroke="none" stroke-width="1"/><line x1="382.30" y1="628.20" x2="382.30" y2="629.90" stroke="#c0c0c0" stroke-width="0.8"/><text transform="translate(386.20 683.13) rotate(-90) scale(1.120 1)" font-size="10.10" fill="#4d4d4d">AZD7762</text><rect x="379.02" y="594.02" width="6.56" height="26.58" fill="#EB8335" stroke="none" stroke-width="1"/><line x1="395.43" y1="628.20" x2="395.43" y2="629.90" stroke="#c0c0c0" stroke-width="0.8"/><text transform="translate(399.33 687.99) rotate(-90) scale(1.120 1)" font-size="10.10" fill="#4d4d4d">Navitoclax</text><rect x="392.15" y="585.16" width="6.56" height="35.44" fill="#DA8F00" stroke="none" stroke-width="1"/><line x1="408.56" y1="628.20" x2="408.56" y2="629.90" stroke="#c0c0c0" stroke-width="0.8"/><text transform="translate(412.46 678.21) rotate(-90) scale(1.120 1)" font-size="10.10" fill="#4d4d4d">Olaparib</text><rect x="405.28" y="558.58" width="6.56" height="62.02" fill="#C49A00" stroke="none" stroke-width="1"/><line x1="421.69" y1="628.20" x2="421.69" y2="629.90" stroke="#c0c0c0" stroke-width="0.8"/><text transform="translate(425.59 688.44) rotate(-90) scale(1.120 1)" font-size="10.10" fill="#4d4d4d">Trametinib</text><rect x="418.40" y="558.58" width="6.56" height="62.02" fill="#A9A400" stroke="none" stroke-width="1"/><line x1="434.81" y1="628.20" x2="434.81" y2="629.90" stroke="#c0c0c0" stroke-width="0.8"/><text transform="translate(438.71 677.58) rotate(-90) scale(1.120 1)" font-size="10.10" fill="#4d4d4d">Alpelisib</text><rect x="431.53" y="549.72" width="6.56" height="70.88" fill="#86AC00" stroke="none" stroke-width="1"/><line x1="447.94" y1="628.20" x2="447.94" y2="629.90" stroke="#c0c0c0" stroke-width="0.8"/><text transform="translate(451.84 686.97) rotate(-90) scale(1.120 1)" font-size="10.10" fill="#4d4d4d">Tozasertib</text><rect x="444.66" y="540.86" width="6.56" height="79.74" fill="#53B400" stroke="none" stroke-width="1"/><line x1="461.07" y1="628.20" x2="461.07" y2="629.90" stroke="#c0c0c0" stroke-width="0.8"/><text transform="translate(464.97 682.62) rotate(-90) scale(1.120 1)" font-size="10.10" fill="#4d4d4d">Dasatinib</text><rect x="457.79" y="540.86" width="6.56" height="79.74" fill="#00BA38" stroke="none" stroke-width="1"/><line x1="474.20" y1="628.20" x2="474.20" y2="629.90" stroke="#c0c0c0" stroke-width="0.8"/><text transform="translate(478.10 679.45) rotate(-90) scale(1.120 1)" font-size="10.10" fill="#4d4d4d">Linsitinib</text><rect x="470.91" y="540.86" width="6.56" height="79.74" fill="#00BE6D" stroke="none" stroke-width="1"/><line x1="487.32" y1="628.20" x2="487.32" y2="629.90" stroke="#c0c0c0" stroke-width="0.8"/><text transform="translate(491.22 664.07) rotate(-90) scale(1.120 1)" font-size="10.10" fill="#4d4d4d">Nutlin</text><rect x="484.04" y="540.86" width="6.56" height="79.74" fill="#00C094" stroke="none" stroke-width="1"/><line x1="500.45" y1="628.20" x2="500.45" y2="629.90" stroke="#c0c0c0" stroke-width="0.8"/><text transform="translate(504.35 680.30) rotate(-90) scale(1.120 1)" font-size="10.10" fill="#4d4d4d">OSI−027</text><rect x="497.17" y="540.86" width="6.56" height="79.74" fill="#00C0B5" stroke="none" stroke-width="1"/><line x1="513.58" y1="628.20" x2="513.58" y2="629.90" stroke="#c0c0c0" stroke-width="0.8"/><text transform="translate(517.48 686.13) rotate(-90) scale(1.120 1)" font-size="10.10" fill="#4d4d4d">Vorinostat</text><rect x="510.30" y="540.86" width="6.56" height="79.74" fill="#00BDD2" stroke="none" stroke-width="1"/><line x1="526.70" y1="628.20" x2="526.70" y2="629.90" stroke="#c0c0c0" stroke-width="0.8"/><text transform="translate(530.60 682.56) rotate(-90) scale(1.120 1)" font-size="10.10" fill="#4d4d4d">Crizotinib</text><rect x="523.42" y="532.00" width="6.56" height="88.60" fill="#00B6EB" stroke="none" stroke-width="1"/><line x1="539.83" y1="628.20" x2="539.83" y2="629.90" stroke="#c0c0c0" stroke-width="0.8"/><text transform="translate(543.73 693.03) rotate(-90) scale(1.120 1)" font-size="10.10" fill="#4d4d4d">Luminespid</text><rect x="536.55" y="532.00" width="6.56" height="88.60" fill="#00ABFD" stroke="none" stroke-width="1"/><line x1="552.96" y1="628.20" x2="552.96" y2="629.90" stroke="#c0c0c0" stroke-width="0.8"/><text transform="translate(556.86 681.37) rotate(-90) scale(1.120 1)" font-size="10.10" fill="#4d4d4d">Lapatinib</text><rect x="549.68" y="505.42" width="6.56" height="115.18" fill="#619CFF" stroke="none" stroke-width="1"/><line x1="566.09" y1="628.20" x2="566.09" y2="629.90" stroke="#c0c0c0" stroke-width="0.8"/><text transform="translate(569.99 676.28) rotate(-90) scale(1.120 1)" font-size="10.10" fill="#4d4d4d">Pictilisib</text><rect x="562.80" y="469.98" width="6.56" height="150.62" fill="#A58AFF" stroke="none" stroke-width="1"/><line x1="579.21" y1="628.20" x2="579.21" y2="629.90" stroke="#c0c0c0" stroke-width="0.8"/><text transform="translate(583.11 679.45) rotate(-90) scale(1.120 1)" font-size="10.10" fill="#4d4d4d">Foretinib</text><rect x="575.93" y="461.12" width="6.56" height="159.48" fill="#D078FF" stroke="none" stroke-width="1"/><line x1="592.34" y1="628.20" x2="592.34" y2="629.90" stroke="#c0c0c0" stroke-width="0.8"/><text transform="translate(596.24 693.03) rotate(-90) scale(1.120 1)" font-size="10.10" fill="#4d4d4d">Phenformin</text><text transform="translate(594.74 620.70) rotate(-90) scale(1.140 1)" font-size="6.70" fill="#111">not covered</text><line x1="605.47" y1="628.20" x2="605.47" y2="629.90" stroke="#c0c0c0" stroke-width="0.8"/><text transform="translate(609.37 689.52) rotate(-90) scale(1.120 1)" font-size="10.10" fill="#4d4d4d">Palbociclib</text><text transform="translate(607.87 620.70) rotate(-90) scale(1.140 1)" font-size="6.70" fill="#111">not covered</text><line x1="618.60" y1="628.20" x2="618.60" y2="629.90" stroke="#c0c0c0" stroke-width="0.8"/><text transform="translate(622.50 696.14) rotate(-90) scale(1.120 1)" font-size="10.10" fill="#4d4d4d">Pemetrexed</text><text transform="translate(621.00 620.70) rotate(-90) scale(1.140 1)" font-size="6.70" fill="#111">not covered</text><line x1="631.72" y1="628.20" x2="631.72" y2="629.90" stroke="#c0c0c0" stroke-width="0.8"/><text transform="translate(635.62 688.84) rotate(-90) scale(1.120 1)" font-size="10.10" fill="#4d4d4d">Decitabine</text><text transform="translate(634.12 620.70) rotate(-90) scale(1.140 1)" font-size="6.70" fill="#111">not covered</text><line x1="361.30" y1="452.80" x2="639.60" y2="452.80" stroke="#c4c4c4" stroke-width="1.0"/><line x1="361.30" y1="628.20" x2="639.60" y2="628.20" stroke="#c4c4c4" stroke-width="1.0"/><line x1="361.30" y1="452.30" x2="361.30" y2="628.70" stroke="#a8a8a8" stroke-width="1.0"/><line x1="639.60" y1="452.30" x2="639.60" y2="628.70" stroke="#a8a8a8" stroke-width="1.0"/><text transform="translate(354.78 624.60) scale(1.080 1)" font-size="10.00" fill="#4d4d4d">0</text><line x1="359.60" y1="620.60" x2="361.30" y2="620.60" stroke="#c0c0c0" stroke-width="0.8"/><text transform="translate(354.84 580.20) scale(1.080 1)" font-size="10.00" fill="#4d4d4d">5</text><line x1="359.60" y1="576.30" x2="361.30" y2="576.30" stroke="#c0c0c0" stroke-width="0.8"/><text transform="translate(348.79 535.40) scale(1.080 1)" font-size="10.00" fill="#4d4d4d">10</text><line x1="359.60" y1="532.00" x2="361.30" y2="532.00" stroke="#c0c0c0" stroke-width="0.8"/><text transform="translate(348.84 490.90) scale(1.080 1)" font-size="10.00" fill="#4d4d4d">15</text><line x1="359.60" y1="487.70" x2="361.30" y2="487.70" stroke="#c0c0c0" stroke-width="0.8"/><text transform="translate(467.80 712.20) scale(1.104 1)" font-size="10.00" fill="#000">Anchor drugs</text><text transform="translate(331.90 618.29) rotate(-90) scale(1.000 1)" font-size="11.11" fill="#000">Minimum no. of library drugs to</text><text transform="translate(344.10 613.04) rotate(-90) scale(1.000 1)" font-size="11.02" fill="#000">cover at least 80% of cell lines</text></svg>
</body></html>
